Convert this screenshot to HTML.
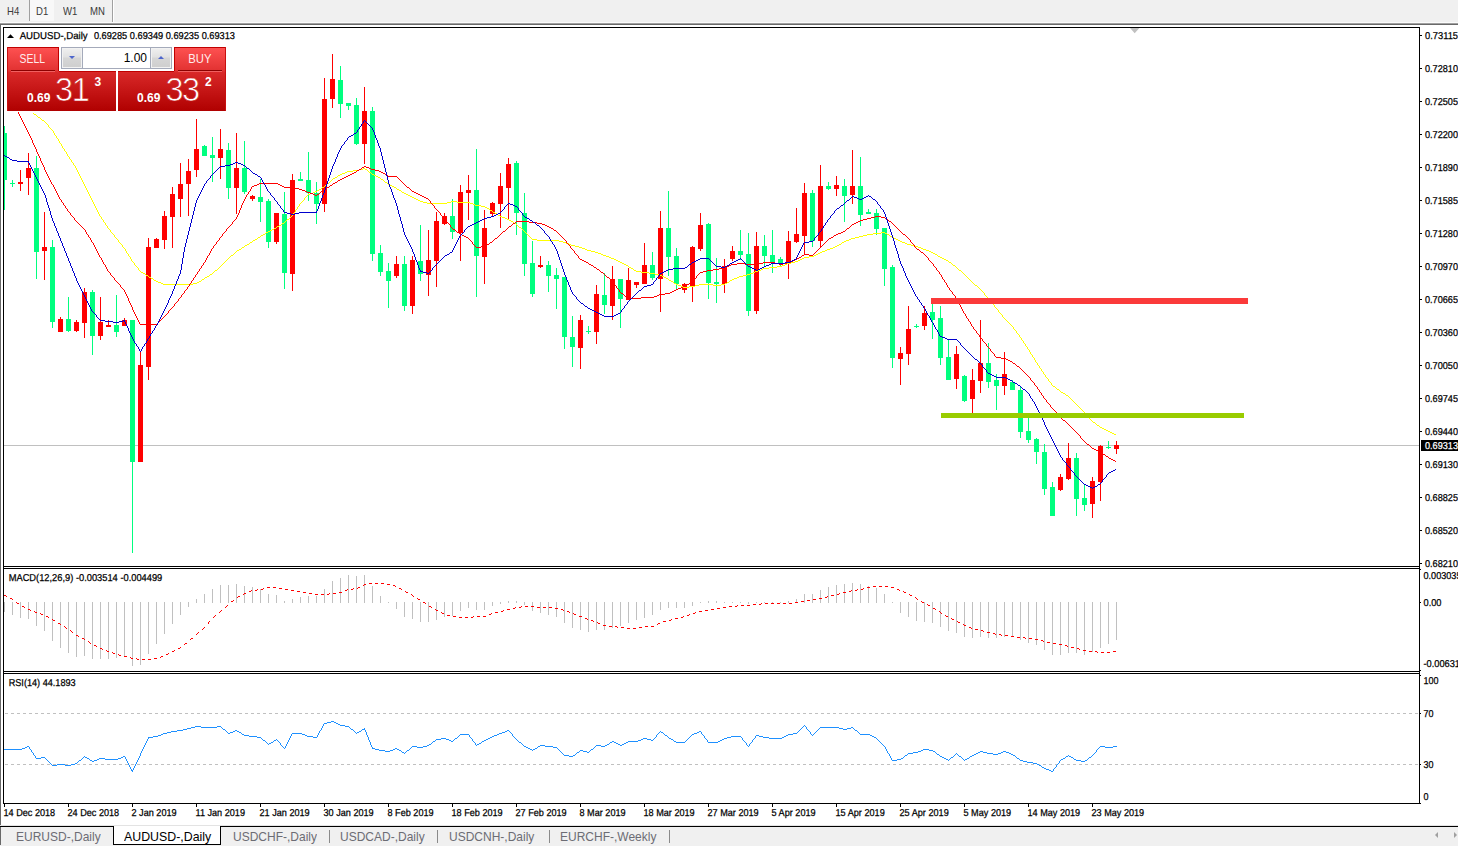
<!DOCTYPE html>
<html><head><meta charset="utf-8"><title>AUDUSD-,Daily</title>
<style>
html,body{margin:0;padding:0;background:#f0f0f0;}
body{width:1458px;height:846px;position:relative;overflow:hidden;font-family:"Liberation Sans",sans-serif;}
.abs{position:absolute;}
.tf{position:absolute;top:5.8px;font-size:10.3px;color:#3a3a3a;line-height:12px;white-space:nowrap;transform:scaleX(.93);transform-origin:0 0;}
.tab{position:absolute;top:828.5px;font-size:12px;line-height:16px;color:#6c6c74;white-space:nowrap;transform:scaleY(1.1);transform-origin:0 100%;}
.sep{position:absolute;top:830px;width:1px;height:13px;background:#8a8a8a;}
.red{background:linear-gradient(#ff5454,#e03030);}
</style></head><body>
<svg width="1458" height="846" viewBox="0 0 1458 846" style="position:absolute;left:0;top:0" font-family="Liberation Sans, sans-serif" text-rendering="geometricPrecision">
<g shape-rendering="crispEdges">
<rect x="0" y="23" width="1458" height="803" fill="#fff"/>
<rect x="0" y="22" width="1458" height="1" fill="#fbfbfb"/>
<rect x="0" y="23" width="1458" height="1" fill="#a0a0a0"/>
<rect x="0" y="24" width="1458" height="1" fill="#696969"/>
<rect x="0" y="25" width="1" height="821" fill="#696969"/>
<rect x="3" y="27" width="1417" height="1" fill="#000"/>
<rect x="3" y="566" width="1417" height="1" fill="#000"/>
<rect x="3" y="568" width="1417" height="1" fill="#000"/>
<rect x="3" y="671" width="1417" height="1" fill="#000"/>
<rect x="3" y="673" width="1417" height="1" fill="#000"/>
<rect x="3" y="803" width="1418" height="1" fill="#000"/>
<rect x="3" y="27" width="1" height="777" fill="#000"/>
<rect x="1419" y="27" width="1" height="777" fill="#000"/>
<rect x="0" y="825" width="1458" height="1" fill="#e3e3e3"/>
<rect x="0" y="826" width="1458" height="1" fill="#000"/>
</g>
<g shape-rendering="crispEdges">
<rect x="4" y="445" width="1415" height="1" fill="#c0c0c0"/>
</g>
<path d="M5 713.5H1419M5 764.5H1419" stroke="#c0c0c0" stroke-width="1" stroke-dasharray="3 3" shape-rendering="crispEdges" fill="none"/>
<defs><clipPath id="cm"><rect x="4" y="28" width="1415" height="538"/></clipPath><clipPath id="cx"><rect x="1420" y="24" width="38" height="800"/></clipPath></defs>
<g shape-rendering="crispEdges" clip-path="url(#cm)">
<rect x="4" y="126" width="1" height="84" fill="#00ff7f"/>
<rect x="2" y="133" width="5" height="47" fill="#00ff7f"/>
<rect x="12" y="180" width="1" height="7" fill="#00ff7f"/>
<rect x="10" y="183" width="5" height="1" fill="#00ff7f"/>
<rect x="20" y="170" width="1" height="21" fill="#ff0000"/>
<rect x="18" y="182" width="5" height="2" fill="#ff0000"/>
<rect x="28" y="153" width="1" height="42" fill="#ff0000"/>
<rect x="26" y="168" width="5" height="10" fill="#ff0000"/>
<rect x="36" y="156" width="1" height="123" fill="#00ff7f"/>
<rect x="34" y="168" width="5" height="84" fill="#00ff7f"/>
<rect x="44" y="212" width="1" height="68" fill="#ff0000"/>
<rect x="42" y="247" width="5" height="4" fill="#ff0000"/>
<rect x="52" y="240" width="1" height="88" fill="#00ff7f"/>
<rect x="50" y="247" width="5" height="75" fill="#00ff7f"/>
<rect x="60" y="317" width="1" height="15" fill="#ff0000"/>
<rect x="58" y="319" width="5" height="13" fill="#ff0000"/>
<rect x="68" y="297" width="1" height="35" fill="#00ff7f"/>
<rect x="66" y="319" width="5" height="12" fill="#00ff7f"/>
<rect x="76" y="320" width="1" height="12" fill="#ff0000"/>
<rect x="74" y="322" width="5" height="9" fill="#ff0000"/>
<rect x="84" y="288" width="1" height="50" fill="#ff0000"/>
<rect x="82" y="292" width="5" height="31" fill="#ff0000"/>
<rect x="92" y="290" width="1" height="65" fill="#00ff7f"/>
<rect x="90" y="292" width="5" height="44" fill="#00ff7f"/>
<rect x="100" y="297" width="1" height="43" fill="#ff0000"/>
<rect x="98" y="322" width="5" height="14" fill="#ff0000"/>
<rect x="108" y="320" width="1" height="7" fill="#ff0000"/>
<rect x="106" y="325" width="5" height="2" fill="#ff0000"/>
<rect x="116" y="295" width="1" height="42" fill="#00ff7f"/>
<rect x="114" y="325" width="5" height="7" fill="#00ff7f"/>
<rect x="124" y="318" width="1" height="8" fill="#ff0000"/>
<rect x="122" y="320" width="5" height="6" fill="#ff0000"/>
<rect x="132" y="320" width="1" height="233" fill="#00ff7f"/>
<rect x="130" y="320" width="5" height="142" fill="#00ff7f"/>
<rect x="140" y="351" width="1" height="111" fill="#ff0000"/>
<rect x="138" y="365" width="5" height="97" fill="#ff0000"/>
<rect x="148" y="238" width="1" height="142" fill="#ff0000"/>
<rect x="146" y="247" width="5" height="120" fill="#ff0000"/>
<rect x="156" y="238" width="1" height="10" fill="#ff0000"/>
<rect x="154" y="239" width="5" height="9" fill="#ff0000"/>
<rect x="164" y="211" width="1" height="38" fill="#ff0000"/>
<rect x="162" y="216" width="5" height="24" fill="#ff0000"/>
<rect x="172" y="187" width="1" height="61" fill="#ff0000"/>
<rect x="170" y="194" width="5" height="23" fill="#ff0000"/>
<rect x="180" y="163" width="1" height="54" fill="#ff0000"/>
<rect x="178" y="184" width="5" height="15" fill="#ff0000"/>
<rect x="188" y="159" width="1" height="57" fill="#ff0000"/>
<rect x="186" y="171" width="5" height="13" fill="#ff0000"/>
<rect x="196" y="119" width="1" height="58" fill="#ff0000"/>
<rect x="194" y="149" width="5" height="21" fill="#ff0000"/>
<rect x="204" y="145" width="1" height="11" fill="#00ff7f"/>
<rect x="202" y="146" width="5" height="10" fill="#00ff7f"/>
<rect x="212" y="137" width="1" height="45" fill="#00ff7f"/>
<rect x="210" y="155" width="5" height="3" fill="#00ff7f"/>
<rect x="220" y="129" width="1" height="50" fill="#ff0000"/>
<rect x="218" y="149" width="5" height="9" fill="#ff0000"/>
<rect x="228" y="143" width="1" height="56" fill="#00ff7f"/>
<rect x="226" y="150" width="5" height="38" fill="#00ff7f"/>
<rect x="236" y="133" width="1" height="81" fill="#ff0000"/>
<rect x="234" y="168" width="5" height="20" fill="#ff0000"/>
<rect x="244" y="141" width="1" height="53" fill="#00ff7f"/>
<rect x="242" y="168" width="5" height="24" fill="#00ff7f"/>
<rect x="252" y="195" width="1" height="6" fill="#ff0000"/>
<rect x="250" y="196" width="5" height="3" fill="#ff0000"/>
<rect x="260" y="179" width="1" height="43" fill="#00ff7f"/>
<rect x="258" y="197" width="5" height="5" fill="#00ff7f"/>
<rect x="268" y="199" width="1" height="49" fill="#00ff7f"/>
<rect x="266" y="201" width="5" height="41" fill="#00ff7f"/>
<rect x="276" y="213" width="1" height="31" fill="#ff0000"/>
<rect x="274" y="213" width="5" height="29" fill="#ff0000"/>
<rect x="284" y="192" width="1" height="97" fill="#00ff7f"/>
<rect x="282" y="214" width="5" height="59" fill="#00ff7f"/>
<rect x="292" y="174" width="1" height="117" fill="#ff0000"/>
<rect x="290" y="180" width="5" height="94" fill="#ff0000"/>
<rect x="300" y="172" width="1" height="9" fill="#00ff7f"/>
<rect x="298" y="179" width="5" height="2" fill="#00ff7f"/>
<rect x="308" y="152" width="1" height="49" fill="#00ff7f"/>
<rect x="306" y="180" width="5" height="13" fill="#00ff7f"/>
<rect x="316" y="182" width="1" height="42" fill="#00ff7f"/>
<rect x="314" y="193" width="5" height="11" fill="#00ff7f"/>
<rect x="324" y="78" width="1" height="134" fill="#ff0000"/>
<rect x="322" y="99" width="5" height="105" fill="#ff0000"/>
<rect x="332" y="54" width="1" height="54" fill="#ff0000"/>
<rect x="330" y="79" width="5" height="20" fill="#ff0000"/>
<rect x="340" y="66" width="1" height="52" fill="#00ff7f"/>
<rect x="338" y="80" width="5" height="24" fill="#00ff7f"/>
<rect x="348" y="103" width="1" height="7" fill="#00ff7f"/>
<rect x="346" y="103" width="5" height="3" fill="#00ff7f"/>
<rect x="356" y="98" width="1" height="47" fill="#00ff7f"/>
<rect x="354" y="105" width="5" height="39" fill="#00ff7f"/>
<rect x="364" y="87" width="1" height="77" fill="#ff0000"/>
<rect x="362" y="111" width="5" height="33" fill="#ff0000"/>
<rect x="372" y="107" width="1" height="154" fill="#00ff7f"/>
<rect x="370" y="111" width="5" height="143" fill="#00ff7f"/>
<rect x="380" y="245" width="1" height="31" fill="#00ff7f"/>
<rect x="378" y="253" width="5" height="19" fill="#00ff7f"/>
<rect x="388" y="263" width="1" height="45" fill="#00ff7f"/>
<rect x="386" y="271" width="5" height="10" fill="#00ff7f"/>
<rect x="396" y="256" width="1" height="22" fill="#ff0000"/>
<rect x="394" y="264" width="5" height="12" fill="#ff0000"/>
<rect x="404" y="256" width="1" height="55" fill="#00ff7f"/>
<rect x="402" y="264" width="5" height="42" fill="#00ff7f"/>
<rect x="412" y="256" width="1" height="58" fill="#ff0000"/>
<rect x="410" y="260" width="5" height="46" fill="#ff0000"/>
<rect x="420" y="225" width="1" height="56" fill="#00ff7f"/>
<rect x="418" y="261" width="5" height="13" fill="#00ff7f"/>
<rect x="428" y="230" width="1" height="66" fill="#ff0000"/>
<rect x="426" y="260" width="5" height="15" fill="#ff0000"/>
<rect x="436" y="212" width="1" height="75" fill="#ff0000"/>
<rect x="434" y="221" width="5" height="40" fill="#ff0000"/>
<rect x="444" y="213" width="1" height="12" fill="#ff0000"/>
<rect x="442" y="216" width="5" height="8" fill="#ff0000"/>
<rect x="452" y="199" width="1" height="40" fill="#00ff7f"/>
<rect x="450" y="216" width="5" height="16" fill="#00ff7f"/>
<rect x="460" y="185" width="1" height="76" fill="#ff0000"/>
<rect x="458" y="192" width="5" height="41" fill="#ff0000"/>
<rect x="468" y="175" width="1" height="45" fill="#ff0000"/>
<rect x="466" y="190" width="5" height="3" fill="#ff0000"/>
<rect x="476" y="149" width="1" height="148" fill="#00ff7f"/>
<rect x="474" y="190" width="5" height="66" fill="#00ff7f"/>
<rect x="484" y="210" width="1" height="74" fill="#ff0000"/>
<rect x="482" y="228" width="5" height="29" fill="#ff0000"/>
<rect x="492" y="202" width="1" height="15" fill="#ff0000"/>
<rect x="490" y="203" width="5" height="11" fill="#ff0000"/>
<rect x="500" y="173" width="1" height="55" fill="#ff0000"/>
<rect x="498" y="186" width="5" height="18" fill="#ff0000"/>
<rect x="508" y="158" width="1" height="62" fill="#ff0000"/>
<rect x="506" y="164" width="5" height="24" fill="#ff0000"/>
<rect x="516" y="161" width="1" height="74" fill="#00ff7f"/>
<rect x="514" y="163" width="5" height="50" fill="#00ff7f"/>
<rect x="524" y="193" width="1" height="83" fill="#00ff7f"/>
<rect x="522" y="213" width="5" height="51" fill="#00ff7f"/>
<rect x="532" y="241" width="1" height="56" fill="#00ff7f"/>
<rect x="530" y="263" width="5" height="31" fill="#00ff7f"/>
<rect x="540" y="256" width="1" height="12" fill="#ff0000"/>
<rect x="538" y="265" width="5" height="2" fill="#ff0000"/>
<rect x="548" y="261" width="1" height="31" fill="#00ff7f"/>
<rect x="546" y="265" width="5" height="11" fill="#00ff7f"/>
<rect x="556" y="268" width="1" height="41" fill="#00ff7f"/>
<rect x="554" y="275" width="5" height="4" fill="#00ff7f"/>
<rect x="564" y="277" width="1" height="72" fill="#00ff7f"/>
<rect x="562" y="277" width="5" height="60" fill="#00ff7f"/>
<rect x="572" y="316" width="1" height="51" fill="#00ff7f"/>
<rect x="570" y="337" width="5" height="10" fill="#00ff7f"/>
<rect x="580" y="315" width="1" height="54" fill="#ff0000"/>
<rect x="578" y="320" width="5" height="28" fill="#ff0000"/>
<rect x="588" y="326" width="1" height="8" fill="#00ff7f"/>
<rect x="586" y="331" width="5" height="1" fill="#00ff7f"/>
<rect x="596" y="285" width="1" height="59" fill="#ff0000"/>
<rect x="594" y="294" width="5" height="38" fill="#ff0000"/>
<rect x="604" y="273" width="1" height="41" fill="#00ff7f"/>
<rect x="602" y="295" width="5" height="10" fill="#00ff7f"/>
<rect x="612" y="266" width="1" height="54" fill="#ff0000"/>
<rect x="610" y="279" width="5" height="27" fill="#ff0000"/>
<rect x="620" y="279" width="1" height="49" fill="#00ff7f"/>
<rect x="618" y="279" width="5" height="20" fill="#00ff7f"/>
<rect x="628" y="268" width="1" height="32" fill="#ff0000"/>
<rect x="626" y="280" width="5" height="20" fill="#ff0000"/>
<rect x="636" y="282" width="1" height="6" fill="#ff0000"/>
<rect x="634" y="282" width="5" height="3" fill="#ff0000"/>
<rect x="644" y="243" width="1" height="41" fill="#ff0000"/>
<rect x="642" y="265" width="5" height="19" fill="#ff0000"/>
<rect x="652" y="252" width="1" height="28" fill="#00ff7f"/>
<rect x="650" y="265" width="5" height="13" fill="#00ff7f"/>
<rect x="660" y="211" width="1" height="101" fill="#ff0000"/>
<rect x="658" y="228" width="5" height="51" fill="#ff0000"/>
<rect x="668" y="191" width="1" height="85" fill="#00ff7f"/>
<rect x="666" y="228" width="5" height="29" fill="#00ff7f"/>
<rect x="676" y="248" width="1" height="42" fill="#00ff7f"/>
<rect x="674" y="256" width="5" height="28" fill="#00ff7f"/>
<rect x="684" y="283" width="1" height="10" fill="#ff0000"/>
<rect x="682" y="284" width="5" height="6" fill="#ff0000"/>
<rect x="692" y="246" width="1" height="56" fill="#ff0000"/>
<rect x="690" y="247" width="5" height="39" fill="#ff0000"/>
<rect x="700" y="213" width="1" height="38" fill="#ff0000"/>
<rect x="698" y="225" width="5" height="24" fill="#ff0000"/>
<rect x="708" y="223" width="1" height="76" fill="#00ff7f"/>
<rect x="706" y="224" width="5" height="59" fill="#00ff7f"/>
<rect x="716" y="258" width="1" height="45" fill="#00ff7f"/>
<rect x="714" y="282" width="5" height="2" fill="#00ff7f"/>
<rect x="724" y="259" width="1" height="34" fill="#ff0000"/>
<rect x="722" y="266" width="5" height="18" fill="#ff0000"/>
<rect x="732" y="246" width="1" height="15" fill="#ff0000"/>
<rect x="730" y="251" width="5" height="8" fill="#ff0000"/>
<rect x="740" y="230" width="1" height="30" fill="#00ff7f"/>
<rect x="738" y="251" width="5" height="4" fill="#00ff7f"/>
<rect x="748" y="233" width="1" height="83" fill="#00ff7f"/>
<rect x="746" y="254" width="5" height="57" fill="#00ff7f"/>
<rect x="756" y="232" width="1" height="82" fill="#ff0000"/>
<rect x="754" y="246" width="5" height="65" fill="#ff0000"/>
<rect x="764" y="235" width="1" height="31" fill="#00ff7f"/>
<rect x="762" y="246" width="5" height="10" fill="#00ff7f"/>
<rect x="772" y="230" width="1" height="43" fill="#00ff7f"/>
<rect x="770" y="255" width="5" height="7" fill="#00ff7f"/>
<rect x="780" y="257" width="1" height="9" fill="#00ff7f"/>
<rect x="778" y="259" width="5" height="5" fill="#00ff7f"/>
<rect x="788" y="231" width="1" height="48" fill="#ff0000"/>
<rect x="786" y="241" width="5" height="22" fill="#ff0000"/>
<rect x="796" y="208" width="1" height="35" fill="#ff0000"/>
<rect x="794" y="234" width="5" height="8" fill="#ff0000"/>
<rect x="804" y="183" width="1" height="72" fill="#ff0000"/>
<rect x="802" y="193" width="5" height="43" fill="#ff0000"/>
<rect x="812" y="190" width="1" height="57" fill="#00ff7f"/>
<rect x="810" y="193" width="5" height="48" fill="#00ff7f"/>
<rect x="820" y="165" width="1" height="83" fill="#ff0000"/>
<rect x="818" y="186" width="5" height="55" fill="#ff0000"/>
<rect x="828" y="182" width="1" height="8" fill="#00ff7f"/>
<rect x="826" y="186" width="5" height="3" fill="#00ff7f"/>
<rect x="836" y="176" width="1" height="20" fill="#ff0000"/>
<rect x="834" y="185" width="5" height="4" fill="#ff0000"/>
<rect x="844" y="179" width="1" height="43" fill="#00ff7f"/>
<rect x="842" y="186" width="5" height="10" fill="#00ff7f"/>
<rect x="852" y="150" width="1" height="54" fill="#ff0000"/>
<rect x="850" y="186" width="5" height="9" fill="#ff0000"/>
<rect x="860" y="157" width="1" height="69" fill="#00ff7f"/>
<rect x="858" y="186" width="5" height="29" fill="#00ff7f"/>
<rect x="868" y="209" width="1" height="5" fill="#00ff7f"/>
<rect x="866" y="212" width="5" height="2" fill="#00ff7f"/>
<rect x="876" y="209" width="1" height="26" fill="#00ff7f"/>
<rect x="874" y="213" width="5" height="16" fill="#00ff7f"/>
<rect x="884" y="228" width="1" height="58" fill="#00ff7f"/>
<rect x="882" y="228" width="5" height="41" fill="#00ff7f"/>
<rect x="892" y="265" width="1" height="103" fill="#00ff7f"/>
<rect x="890" y="267" width="5" height="91" fill="#00ff7f"/>
<rect x="900" y="347" width="1" height="38" fill="#ff0000"/>
<rect x="898" y="353" width="5" height="6" fill="#ff0000"/>
<rect x="908" y="306" width="1" height="59" fill="#ff0000"/>
<rect x="906" y="329" width="5" height="25" fill="#ff0000"/>
<rect x="916" y="324" width="1" height="4" fill="#00ff7f"/>
<rect x="914" y="326" width="5" height="1" fill="#00ff7f"/>
<rect x="924" y="306" width="1" height="24" fill="#ff0000"/>
<rect x="922" y="313" width="5" height="13" fill="#ff0000"/>
<rect x="932" y="304" width="1" height="35" fill="#00ff7f"/>
<rect x="930" y="312" width="5" height="8" fill="#00ff7f"/>
<rect x="940" y="306" width="1" height="59" fill="#00ff7f"/>
<rect x="938" y="318" width="5" height="40" fill="#00ff7f"/>
<rect x="948" y="340" width="1" height="40" fill="#00ff7f"/>
<rect x="946" y="357" width="5" height="23" fill="#00ff7f"/>
<rect x="956" y="346" width="1" height="43" fill="#ff0000"/>
<rect x="954" y="354" width="5" height="25" fill="#ff0000"/>
<rect x="964" y="375" width="1" height="27" fill="#00ff7f"/>
<rect x="962" y="376" width="5" height="25" fill="#00ff7f"/>
<rect x="972" y="369" width="1" height="44" fill="#ff0000"/>
<rect x="970" y="380" width="5" height="19" fill="#ff0000"/>
<rect x="980" y="320" width="1" height="73" fill="#ff0000"/>
<rect x="978" y="363" width="5" height="18" fill="#ff0000"/>
<rect x="988" y="343" width="1" height="45" fill="#00ff7f"/>
<rect x="986" y="363" width="5" height="19" fill="#00ff7f"/>
<rect x="996" y="374" width="1" height="36" fill="#00ff7f"/>
<rect x="994" y="380" width="5" height="6" fill="#00ff7f"/>
<rect x="1004" y="352" width="1" height="43" fill="#ff0000"/>
<rect x="1002" y="374" width="5" height="12" fill="#ff0000"/>
<rect x="1012" y="380" width="1" height="10" fill="#00ff7f"/>
<rect x="1010" y="382" width="5" height="8" fill="#00ff7f"/>
<rect x="1020" y="386" width="1" height="52" fill="#00ff7f"/>
<rect x="1018" y="390" width="5" height="42" fill="#00ff7f"/>
<rect x="1028" y="417" width="1" height="26" fill="#00ff7f"/>
<rect x="1026" y="431" width="5" height="9" fill="#00ff7f"/>
<rect x="1036" y="438" width="1" height="26" fill="#00ff7f"/>
<rect x="1034" y="439" width="5" height="13" fill="#00ff7f"/>
<rect x="1044" y="444" width="1" height="51" fill="#00ff7f"/>
<rect x="1042" y="452" width="5" height="37" fill="#00ff7f"/>
<rect x="1052" y="482" width="1" height="34" fill="#00ff7f"/>
<rect x="1050" y="487" width="5" height="29" fill="#00ff7f"/>
<rect x="1060" y="474" width="1" height="17" fill="#ff0000"/>
<rect x="1058" y="477" width="5" height="13" fill="#ff0000"/>
<rect x="1068" y="443" width="1" height="37" fill="#ff0000"/>
<rect x="1066" y="458" width="5" height="21" fill="#ff0000"/>
<rect x="1076" y="453" width="1" height="63" fill="#00ff7f"/>
<rect x="1074" y="458" width="5" height="41" fill="#00ff7f"/>
<rect x="1084" y="484" width="1" height="27" fill="#00ff7f"/>
<rect x="1082" y="498" width="5" height="7" fill="#00ff7f"/>
<rect x="1092" y="477" width="1" height="41" fill="#ff0000"/>
<rect x="1090" y="481" width="5" height="23" fill="#ff0000"/>
<rect x="1100" y="445" width="1" height="56" fill="#ff0000"/>
<rect x="1098" y="446" width="5" height="36" fill="#ff0000"/>
<rect x="1108" y="441" width="1" height="8" fill="#00ff7f"/>
<rect x="1106" y="447" width="5" height="1" fill="#00ff7f"/>
<rect x="1116" y="441" width="1" height="13" fill="#ff0000"/>
<rect x="1114" y="445" width="5" height="4" fill="#ff0000"/>
</g>
<path d="M338 175.5h2M374 175.5h2M146 275.5h2M659 275.5h3M743 275.5h4M582 248.5h3M830 248.5h3M921 248.5h2M683 287.5h6M1057 389.5h2M1097 425.5h2M1104 429.5h2M611 258.5h3M802 258.5h2M942 258.5h2M408 195.5h2M427 203.5h20M470 203.5h3M626 265.5h2M782 265.5h3M953 265.5h2M678 285.5h3M695 285.5h4M713 285.5h8M975 285.5h2M258 237.5h2M855 237.5h4M892 237.5h2M620 262.5h2M791 262.5h4M949 262.5h2M161 283.5h2M193 283.5h4M674 283.5h2M725 283.5h2M353 170.5h6M270 230.5h2M38 117.5h2M255 239.5h2M532 239.5h5M849 239.5h2M896 239.5h2M231 255.5h2M603 255.5h3M814 255.5h2M163 284.5h30M676 284.5h2M699 284.5h14M721 284.5h4M601 254.5h2M816 254.5h2M935 254.5h2M263 234.5h2M867 234.5h6M887 234.5h2M210 274.5h2M655 274.5h4M747 274.5h3M242 247.5h2M579 247.5h3M833 247.5h2M918 247.5h3M410 196.5h2M487 208.5h2M156 281.5h2M199 281.5h2M671 281.5h2M266 232.5h2M881 232.5h4M575 246.5h4M835 246.5h2M915 246.5h3M636 271.5h5M755 271.5h3M412 197.5h2M310 193.5h3M404 193.5h2M495 213.5h2M245 245.5h2M571 245.5h4M837 245.5h2M911 245.5h4M319 189.5h2M397 189.5h2M475 205.5h6M261 235.5h2M863 235.5h4M681 286.5h2M689 286.5h6M616 260.5h2M798 260.5h2M946 260.5h2M606 256.5h3M809 256.5h5M938 256.5h2M151 278.5h2M666 278.5h2M734 278.5h3M342 173.5h3M317 190.5h2M399 190.5h2M490 210.5h2M609 257.5h2M804 257.5h5M940 257.5h2M322 187.5h2M394 187.5h2M143 273.5h2M649 273.5h6M750 273.5h3M207 276.5h2M662 276.5h2M739 276.5h4M202 279.5h2M732 279.5h2M239 249.5h2M585 249.5h2M827 249.5h3M923 249.5h3M253 240.5h2M537 240.5h22M846 240.5h3M898 240.5h2M315 191.5h2M420 201.5h3M451 201.5h6M851 238.5h4M894 238.5h2M215 270.5h2M634 270.5h2M758 270.5h3M959 270.5h2M519 227.5h2M385 182.5h2M423 202.5h4M447 202.5h4M457 202.5h13M149 277.5h2M205 277.5h2M664 277.5h2M737 277.5h2M595 252.5h3M820 252.5h2M931 252.5h2M274 228.5h2M629 267.5h2M769 267.5h8M250 242.5h2M563 242.5h3M842 242.5h2M902 242.5h3M622 263.5h2M787 263.5h4M141 272.5h2M641 272.5h8M753 272.5h2M859 236.5h4M890 236.5h2M493 212.5h2M327 183.5h2M511 221.5h2M363 168.5h2M559 241.5h4M844 241.5h2M900 241.5h2M277 226.5h2M1093 422.5h2M247 244.5h2M569 244.5h2M839 244.5h2M907 244.5h4M268 231.5h2M505 218.5h2M614 259.5h2M800 259.5h2M944 259.5h2M34 114.5h2M777 266.5h5M154 280.5h2M669 280.5h2M730 280.5h2M591 251.5h4M822 251.5h3M929 251.5h2M631 268.5h2M763 268.5h6M335 177.5h2M378 177.5h2M237 250.5h2M587 250.5h4M825 250.5h2M926 250.5h3M392 186.5h2M347 171.5h6M481 206.5h4M498 215.5h2M598 253.5h3M818 253.5h2M933 253.5h2M388 184.5h2M873 233.5h8M885 233.5h2M313 192.5h2M402 192.5h2M381 179.5h2M1063 393.5h2M618 261.5h2M795 261.5h3M279 225.5h2M158 282.5h3M197 282.5h2M727 282.5h2M1066 395.5h2M624 264.5h2M785 264.5h2M1061 392.5h2M1110 432.5h2M761 269.5h2M390 185.5h2M566 243.5h3M905 243.5h2M308 194.5h2M406 194.5h2M1114 434.5h2M376 176.5h2M1106 430.5h2M418 200.5h2M287 219.5h2M507 219.5h2M502 217.5h3M345 172.5h2M369 172.5h2M485 207.5h2M333 178.5h2M1102 428.5h2M414 198.5h2M416 199.5h2M340 174.5h2M372 174.5h2M500 216.5h2M1053 386.5h2M359 169.5h4M365 169.5h2M272 229.5h2M473 204.5h2M282 223.5h2M514 223.5h2M509 220.5h2M1108 431.5h2M42 120.5h2M1112 433.5h2M1100 427.5h2M492.5 211v1M994.5 305v2M1023.5 341v2M1031.5 354v1M1071.5 399v1M1034.5 358v2M306.5 196v1M221.5 265v1M1027.5 347v2M1005.5 319v1M281.5 224v1M85.5 186v2M668.5 279v1M122.5 245v2M401.5 191v1M86.5 188v2M1012.5 326v1M139.5 270v1M82.5 180v2M1016.5 331v2M1037.5 363v2M140.5 271v1M235.5 252v1M367.5 170v1M521.5 228v1M53.5 131v2M998.5 310v2M56.5 136v2M1030.5 352v2M64.5 149v2M1038.5 365v1M979.5 288v1M228.5 258v1M114.5 235v2M294.5 212v1M1052.5 385v1M285.5 221v1M986.5 296v1M528.5 235v1M301.5 202v1M121.5 244v1M968.5 278v1M212.5 273v1M289.5 218v1M1078.5 406v1M204.5 278v1M957.5 268v1M125.5 249v2M99.5 214v2M1033.5 357v1M1041.5 369v2M1085.5 413v1M52.5 130v1M997.5 309v1M60.5 143v1M967.5 277v1M1086.5 414v1M1051.5 383v2M88.5 192v2M516.5 224v1M956.5 267v1M265.5 233v1M128.5 254v2M974.5 284v1M517.5 225v1M44.5 121v1M223.5 263v1M332.5 179v1M81.5 178v2M45.5 122v1M55.5 135v1M103.5 220v2M1029.5 350v2M59.5 141v2M67.5 154v2M96.5 208v2M297.5 207v2M113.5 234v1M153.5 279v1M1074.5 402v1M226.5 260v1M257.5 238v1M633.5 269v1M131.5 259v2M249.5 243v1M84.5 184v2M295.5 210v2M241.5 248v1M87.5 190v2M124.5 248v1M127.5 253v1M628.5 266v1M1014.5 329v1M138.5 268v2M98.5 212v2M80.5 176v2M1015.5 330v1M101.5 217v2M62.5 146v2M1036.5 362v1M673.5 282v1M1039.5 366v2M303.5 200v1M999.5 312v1M102.5 219v1M214.5 271v1M1032.5 355v2M66.5 152v2M1040.5 368v1M1088.5 416v2M1072.5 400v1M523.5 230v1M1099.5 426v1M952.5 264v1M95.5 206v2M1000.5 313v1M380.5 178v1M218.5 268v1M1073.5 401v1M497.5 214v1M1006.5 320v1M40.5 118v1M300.5 203v1M1007.5 321v1M83.5 182v2M1079.5 407v1M988.5 298v1M1080.5 408v1M1013.5 327v2M230.5 256v1M951.5 263v1M962.5 272v1M97.5 210v2M58.5 139v2M330.5 181v1M61.5 144v2M1035.5 360v2M69.5 157v2M1043.5 372v2M77.5 170v2M54.5 133v2M291.5 216v1M1087.5 415v1M980.5 289v1M94.5 204v2M115.5 237v1M981.5 290v1M284.5 222v1M145.5 274v1M116.5 238v1M970.5 280v1M126.5 251v2M130.5 257v2M530.5 237v1M961.5 271v1M134.5 263v2M1095.5 423v1M1017.5 333v1M368.5 171v1M522.5 229v1M57.5 138v1M105.5 223v2M36.5 115v1M65.5 151v1M1021.5 338v2M68.5 156v1M1042.5 371v1M76.5 168v2M276.5 227v1M1046.5 377v1M225.5 261v1M529.5 236v1M489.5 209v1M969.5 279v1M958.5 269v1M991.5 302v1M518.5 226v1M79.5 174v2M100.5 216v1M299.5 204v2M1045.5 375v2M1068.5 396v1M104.5 222v1M72.5 162v1M1020.5 337v1M387.5 183v1M93.5 202v2M1002.5 315v2M118.5 240v2M252.5 241v1M244.5 246v1M984.5 293v2M1075.5 403v1M129.5 256v1M1008.5 322v1M321.5 188v1M236.5 251v1M119.5 242v1M132.5 261v1M990.5 300v2M1009.5 323v1M133.5 262v1M325.5 185v1M293.5 213v2M302.5 201v1M46.5 123v1M220.5 266v1M78.5 172v2M329.5 182v1M209.5 275v1M286.5 220v1M107.5 226v2M201.5 280v1M63.5 148v1M71.5 160v2M513.5 222v1M75.5 166v2M1089.5 418v1M1001.5 314v1M1049.5 381v1M1090.5 419v1M525.5 232v1M983.5 292v1M89.5 194v2M989.5 299v1M1019.5 335v2M305.5 197v1M227.5 259v1M290.5 217v1M1059.5 390v1M889.5 235v1M963.5 273v1M1082.5 410v1M106.5 225v1M49.5 127v1M524.5 231v1M70.5 159v1M1044.5 374v1M1060.5 391v1M964.5 274v1M41.5 119v1M92.5 200v2M982.5 291v1M971.5 281v1M135.5 265v1M1081.5 409v1M48.5 125v2M234.5 253v1M136.5 266v1M1096.5 424v1M1018.5 334v1M73.5 163v2M110.5 230v2M37.5 116v1M74.5 165v1M1048.5 379v2M1070.5 398v1M117.5 239v1M1004.5 318v1M222.5 264v1M331.5 180v1M937.5 255v1M1055.5 387v1M948.5 261v1M531.5 238v1M324.5 186v1M47.5 124v1M992.5 303v1M296.5 209v1M993.5 304v1M1022.5 340v1M1025.5 344v2M1003.5 317v1M1026.5 346v1M91.5 198v2M1047.5 378v1M396.5 188v1M978.5 287v1M260.5 236v1M304.5 198v2M1091.5 420v1M307.5 195v1M1092.5 421v1M985.5 295v1M219.5 267v1M120.5 243v1M1077.5 405v1M33.5 113v1M1011.5 325v1M1069.5 397v1M108.5 228v1M1084.5 412v1M109.5 229v1M90.5 196v2M966.5 276v1M1076.5 404v1M527.5 234v1M229.5 257v1M292.5 215v1M1010.5 324v1M383.5 180v1M1065.5 394v1M213.5 272v1M1083.5 411v1M384.5 181v1M995.5 307v1M1024.5 343v1M977.5 286v1M217.5 269v1M51.5 129v1M996.5 308v1M1028.5 349v1M1050.5 382v1M526.5 233v1M233.5 254v1M955.5 266v1M123.5 247v1M337.5 176v1M973.5 283v1M137.5 267v1M50.5 128v1M224.5 262v1M965.5 275v1M111.5 232v1M326.5 184v1M729.5 281v1M112.5 233v1M371.5 173v1M972.5 282v1M298.5 206v1M1056.5 388v1M841.5 243v1M987.5 297v1M148.5 276v1" stroke="#ffff00" stroke-width="1" fill="none" shape-rendering="crispEdges"/>
<path d="M302 190.5h3M490 242.5h2M804 254.5h5M863 219.5h4M140 324.5h17M586 262.5h2M763 262.5h12M787 262.5h3M685 285.5h2M871 217.5h4M881 217.5h4M487 244.5h2M551 228.5h2M847 228.5h2M726 266.5h3M867 218.5h4M885 218.5h2M453 229.5h2M584 261.5h2M790 261.5h3M369 168.5h2M426 198.5h2M313 194.5h2M317 194.5h2M418 194.5h2M1103 454.5h2M315 195.5h2M420 195.5h2M305 191.5h2M321 191.5h2M412 191.5h2M476 247.5h5M481 246.5h4M597 269.5h2M713 269.5h6M1096 450.5h2M357 170.5h2M375 170.5h4M344 177.5h2M340 179.5h2M601 272.5h2M700 272.5h3M254 185.5h3M280 185.5h2M330 185.5h2M589 264.5h2M731 264.5h6M745 264.5h14M779 264.5h4M466 237.5h2M831 237.5h2M674 290.5h2M529 222.5h8M856 222.5h2M1010 361.5h2M554 230.5h2M509 226.5h2M547 226.5h2M594 267.5h2M723 267.5h3M460 234.5h2M836 234.5h2M903 234.5h2M284 187.5h11M327 187.5h2M407 187.5h2M737 263.5h8M759 263.5h4M775 263.5h4M783 263.5h4M580 259.5h2M795 259.5h2M299 189.5h3M259 183.5h19M333 183.5h2M707 270.5h6M516 221.5h13M858 221.5h2M889 221.5h2M422 196.5h2M641 297.5h13M513 223.5h2M537 223.5h5M854 223.5h2M690 282.5h2M621 293.5h2M665 293.5h5M503 231.5h2M843 231.5h2M350 174.5h2M1113 460.5h2M462 235.5h2M834 235.5h2M625 296.5h2M654 296.5h3M838 233.5h3M549 227.5h2M1013 363.5h2M457 232.5h2M841 232.5h2M352 173.5h2M383 173.5h2M802 255.5h2M809 255.5h4M703 271.5h4M687 284.5h2M1101 453.5h2M683 286.5h2M495 238.5h2M829 238.5h2M628 298.5h13M362 167.5h2M366 167.5h3M542 224.5h3M852 224.5h2M921 252.5h2M545 225.5h2M659 294.5h6M257 184.5h2M278 184.5h2M359 169.5h2M371 169.5h4M310 193.5h3M416 193.5h2M875 216.5h6M996 357.5h5M582 260.5h2M793 260.5h2M1017 366.5h2M1106 456.5h2M346 176.5h2M388 176.5h9M354 172.5h2M381 172.5h2M335 182.5h2M1006 359.5h2M591 265.5h2M729 265.5h2M1094 449.5h2M681 287.5h2M799 257.5h2M485 245.5h2M464 236.5h2M797 258.5h2M252 186.5h2M282 186.5h2M719 268.5h4M676 289.5h2M672 291.5h2M295 188.5h4M325 188.5h2M1111 459.5h2M348 175.5h2M386 175.5h2M678 288.5h3M607 277.5h2M1001 358.5h5M1098 451.5h2M1092 448.5h2M364 166.5h2M1087 444.5h2M1109 458.5h2M342 178.5h2M338 180.5h2M307 192.5h3M414 192.5h2M1008 360.5h2M379 171.5h2M1063 420.5h2M860 220.5h3M670 292.5h2M657 295.5h2M917 249.5h2M424 197.5h2M23.5 122v2M202.5 265v1M571.5 248v1M1026.5 374v1M498.5 236v1M946.5 283v2M1086.5 443v1M949.5 288v2M596.5 268v1M37.5 152v2M1059.5 416v1M982.5 339v2M74.5 218v2M1060.5 417v1M186.5 289v1M233.5 221v1M189.5 284v2M236.5 217v2M135.5 314v2M1041.5 393v2M897.5 228v1M1077.5 433v1M80.5 225v1M446.5 220v2M898.5 229v1M1037.5 387v2M824.5 243v1M930.5 261v1M44.5 167v3M113.5 277v1M695.5 278v1M241.5 205v3M181.5 295v2M1078.5 434v1M81.5 226v1M193.5 278v2M471.5 241v1M887.5 219v1M162.5 318v1M1051.5 407v1M931.5 262v1M26.5 128v2M472.5 242v2M963.5 311v2M941.5 275v2M124.5 290v2M971.5 324v2M1052.5 408v1M127.5 296v2M213.5 246v2M434.5 206v2M59.5 197v2M821.5 246v1M570.5 246v2M205.5 260v2M138.5 320v2M953.5 294v1M1015.5 364v1M134.5 312v2M73.5 217v1M34.5 145v2M502.5 232v1M209.5 253v2M923.5 253v1M1091.5 447v1M128.5 298v3M177.5 301v1M992.5 352v1M912.5 243v1M1100.5 452v1M445.5 219v1M569.5 245v1M184.5 291v2M25.5 126v2M698.5 274v1M966.5 316v2M216.5 242v2M172.5 307v1M196.5 274v1M948.5 287v1M22.5 120v2M1066.5 422v1M606.5 276v1M400.5 180v1M967.5 318v1M240.5 208v2M123.5 289v1M828.5 239v1M944.5 280v2M952.5 292v2M401.5 181v1M693.5 280v1M232.5 222v2M36.5 149v3M981.5 338v1M588.5 263v1M19.5 114v2M320.5 192v1M157.5 323v1M332.5 184v1M613.5 282v2M1036.5 386v1M33.5 143v2M324.5 189v1M1039.5 390v2M239.5 210v3M911.5 242v1M562.5 237v1M614.5 284v1M43.5 165v2M1040.5 392v1M102.5 260v2M115.5 280v1M1080.5 436v2M131.5 305v2M1021.5 369v1M116.5 281v1M224.5 232v1M933.5 264v2M1081.5 438v1M1065.5 421v1M962.5 309v2M970.5 322v2M474.5 245v1M1022.5 370v1M58.5 195v2M235.5 219v1M947.5 285v2M934.5 266v1M40.5 158v3M61.5 200v2M919.5 250v1M437.5 210v1M959.5 303v2M573.5 250v1M1028.5 376v1M51.5 182v2M892.5 223v1M819.5 248v1M1072.5 428v1M850.5 226v1M18.5 112v2M1029.5 377v1M164.5 316v1M893.5 224v1M816.5 251v1M1073.5 429v1M76.5 221v1M180.5 297v1M1043.5 396v2M192.5 280v1M1062.5 419v1M227.5 228v1M98.5 253v2M459.5 233v1M500.5 234v1M995.5 356v1M899.5 230v1M101.5 258v2M489.5 243v1M1079.5 435v1M175.5 303v1M448.5 223v1M900.5 231v1M493.5 240v1M219.5 238v2M199.5 269v2M973.5 327v2M951.5 291v1M57.5 193v2M65.5 206v2M21.5 118v2M497.5 237v1M983.5 341v1M250.5 189v2M1054.5 410v1M955.5 296v2M984.5 342v1M826.5 241v1M183.5 293v1M32.5 140v3M195.5 275v2M627.5 297v1M910.5 240v2M440.5 213v2M75.5 220v1M35.5 147v2M133.5 310v2M1061.5 418v1M616.5 286v2M246.5 195v2M1042.5 395v1M105.5 265v2M994.5 354v2M914.5 245v2M108.5 271v1M617.5 288v1M932.5 263v1M447.5 222v1M97.5 251v2M42.5 163v2M965.5 314v2M215.5 244v1M1046.5 400v2M814.5 253v1M428.5 199v1M130.5 303v2M968.5 319v2M82.5 227v1M888.5 220v1M60.5 199v1M24.5 124v2M572.5 249v1M623.5 294v1M429.5 200v1M961.5 307v2M969.5 321v1M242.5 203v2M125.5 292v2M958.5 301v2M56.5 191v2M1053.5 409v1M64.5 205v1M624.5 295v1M402.5 182v1M557.5 232v1M191.5 281v2M361.5 168v1M954.5 295v1M403.5 183v1M924.5 254v1M107.5 269v2M455.5 230v1M925.5 255v1M823.5 244v1M132.5 307v3M615.5 285v1M218.5 240v1M198.5 271v1M104.5 264v1M964.5 313v1M692.5 281v1M972.5 326v1M86.5 232v2M1012.5 362v1M20.5 116v2M936.5 268v2M159.5 321v1M118.5 283v1M1083.5 440v1M63.5 203v2M845.5 230v1M1024.5 372v1M508.5 227v1M238.5 213v2M1105.5 455v1M957.5 299v2M1068.5 424v1M556.5 231v1M575.5 253v1M1030.5 378v2M53.5 185v2M174.5 304v2M103.5 262v2M1031.5 380v1M106.5 267v2M506.5 229v1M49.5 178v2M993.5 353v1M913.5 244v1M99.5 255v2M249.5 191v1M499.5 235v1M563.5 238v1M41.5 161v2M619.5 290v2M31.5 138v2M1075.5 431v1M100.5 257v1M1045.5 399v1M129.5 301v2M593.5 266v1M928.5 258v2M564.5 239v1M450.5 225v2M1067.5 423v1M469.5 239v1M960.5 305v2M574.5 251v2M553.5 229v1M431.5 203v1M1082.5 439v1M85.5 230v2M920.5 251v1M475.5 246v1M55.5 189v2M166.5 314v1M1023.5 371v1M818.5 249v1M935.5 267v1M849.5 227v1M67.5 209v2M245.5 197v2M432.5 204v1M905.5 235v1M975.5 330v1M1056.5 412v2M438.5 211v1M226.5 229v2M182.5 294v1M229.5 226v1M906.5 236v1M1074.5 430v1M139.5 322v2M986.5 344v2M194.5 277v1M52.5 184v1M439.5 212v1M110.5 273v2M221.5 236v1M201.5 266v2M1044.5 398v1M1034.5 383v2M96.5 249v2M117.5 282v1M30.5 136v2M468.5 238v1M916.5 248v1M237.5 215v2M974.5 329v1M169.5 310v1M430.5 201v2M603.5 273v1M449.5 224v1M409.5 188v1M62.5 202v1M604.5 274v1M398.5 178v1M825.5 242v1M185.5 290v1M699.5 273v1M66.5 208v1M942.5 277v2M197.5 272v2M956.5 298v1M894.5 225v1M248.5 192v2M985.5 343v1M48.5 176v2M77.5 222v1M694.5 279v1M161.5 319v1M813.5 254v1M1089.5 445v1M337.5 181v1M566.5 241v2M901.5 232v1M618.5 289v1M244.5 199v2M329.5 186v1M95.5 247v2M567.5 243v1M88.5 235v2M397.5 177v1M937.5 270v1M120.5 285v2M1055.5 411v1M54.5 187v2M938.5 271v1M456.5 231v1M208.5 255v1M173.5 306v1M356.5 171v1M441.5 215v1M1070.5 426v1M558.5 233v1M494.5 239v1M404.5 184v1M577.5 255v1M47.5 174v2M559.5 234v1M599.5 270v1M915.5 247v1M212.5 248v1M168.5 311v2M1033.5 382v1M109.5 272v1M926.5 256v1M820.5 247v1M204.5 262v1M1047.5 402v1M927.5 257v1M83.5 228v1M91.5 240v2M565.5 240v1M94.5 245v2M1048.5 403v1M84.5 229v1M87.5 234v1M319.5 193v1M452.5 228v1M188.5 286v1M68.5 211v1M1084.5 441v1M50.5 180v2M385.5 174v1M1025.5 373v1M69.5 212v1M801.5 256v1M987.5 346v1M907.5 237v1M697.5 275v1M1058.5 415v1M988.5 347v1M908.5 238v1M1032.5 381v1M220.5 237v1M243.5 201v2M610.5 279v1M231.5 224v1M851.5 225v1M29.5 134v2M620.5 292v1M39.5 156v2M976.5 331v2M90.5 238v2M119.5 284v1M323.5 190v1M977.5 333v1M228.5 227v1M512.5 224v1M501.5 233v1M1069.5 425v1M815.5 252v1M576.5 254v1M176.5 302v1M179.5 298v1M433.5 205v1M505.5 230v1M211.5 249v2M609.5 278v1M137.5 318v2M200.5 268v1M223.5 233v1M203.5 263v2M895.5 226v1M171.5 308v1M160.5 320v1M251.5 187v2M896.5 227v1M111.5 275v1M1076.5 432v1M492.5 241v1M112.5 276v1M929.5 260v1M827.5 240v1M207.5 256v2M187.5 287v2M234.5 220v1M93.5 243v2M410.5 189v1M451.5 227v1M470.5 240v1M28.5 132v2M1050.5 405v2M411.5 190v1M89.5 237v1M126.5 294v2M696.5 276v2M1057.5 414v1M163.5 317v1M940.5 274v1M689.5 283v1M980.5 337v1M72.5 216v1M46.5 172v2M78.5 223v1M991.5 351v1M1035.5 385v1M79.5 224v1M444.5 218v1M561.5 236v1M939.5 272v2M902.5 233v1M1020.5 368v1M1049.5 404v1M605.5 275v1M399.5 179v1M210.5 251v2M979.5 335v2M568.5 244v1M38.5 154v2M122.5 288v1M222.5 234v2M473.5 244v1M943.5 279v1M578.5 256v2M70.5 213v2M435.5 208v1M247.5 194v1M833.5 236v1M136.5 316v2M822.5 245v1M579.5 258v1M71.5 215v1M436.5 209v1M214.5 245v1M406.5 186v1M206.5 258v2M442.5 216v1M846.5 229v1M45.5 170v2M990.5 349v2M1090.5 446v1M443.5 217v1M114.5 278v2M27.5 130v2M158.5 322v1M178.5 299v2M507.5 228v1M190.5 283v1M92.5 242v1M121.5 287v1M511.5 225v1M978.5 334v1M950.5 290v1M891.5 222v1M1071.5 427v1M1115.5 461v1M405.5 185v1M167.5 313v1M170.5 309v1M217.5 241v1M560.5 235v1M600.5 271v1M1027.5 375v1M611.5 280v1M1016.5 365v1M909.5 239v1M989.5 348v1M612.5 281v1M1108.5 457v1M230.5 225v1M1019.5 367v1M1038.5 389v1M165.5 315v1M817.5 250v1M225.5 231v1M515.5 222v1M945.5 282v1M1085.5 442v1" stroke="#ff0000" stroke-width="1" fill="none" shape-rendering="crispEdges"/>
<path d="M585 306.5h2M105 321.5h8M119 321.5h4M716 266.5h5M725 266.5h2M748 266.5h2M764 266.5h2M694 261.5h2M734 261.5h2M790 261.5h2M284 212.5h3M299 212.5h18M696 260.5h2M736 260.5h2M792 260.5h2M484 218.5h3M527 218.5h2M487 217.5h4M525 217.5h2M594 311.5h2M698 259.5h2M738 259.5h2M794 259.5h2M255 174.5h2M1006 378.5h2M857 198.5h2M862 198.5h2M1111 471.5h2M990 374.5h2M510 204.5h3M727 265.5h2M766 265.5h3M513 205.5h2M841 205.5h2M730 263.5h2M771 263.5h14M837 208.5h2M604 316.5h10M685 267.5h2M721 267.5h4M750 267.5h2M762 267.5h2M666 270.5h2M756 270.5h2M651 284.5h2M291 214.5h4M496 214.5h2M942 337.5h3M225 165.5h5M243 165.5h2M590 309.5h2M647 285.5h4M1090 487.5h2M1093 487.5h2M220 166.5h5M235 162.5h3M287 213.5h4M295 213.5h4M498 213.5h2M1113 470.5h2M450 252.5h2M233 163.5h2M238 163.5h3M420 271.5h3M664 271.5h2M947 339.5h10M689 264.5h2M769 264.5h2M859 199.5h3M873 199.5h2M258 176.5h2M247 168.5h2M1015 383.5h2M1008 379.5h2M588 308.5h2M639 290.5h2M996 377.5h10M975 359.5h2M423 272.5h4M662 272.5h2M673 268.5h12M752 268.5h2M760 268.5h2M472 224.5h2M12 160.5h5M700 258.5h9M692 262.5h2M732 262.5h2M785 262.5h5M17 161.5h12M600 314.5h2M616 314.5h2M515 206.5h2M476 222.5h2M533 222.5h2M809 241.5h4M253 173.5h2M1088 486.5h2M1095 486.5h2M602 315.5h2M614 315.5h2M940 336.5h2M854 197.5h3M864 197.5h2M508 203.5h2M644 286.5h3M482 219.5h2M668 269.5h5M754 269.5h2M758 269.5h2M100 320.5h5M123 320.5h2M474 223.5h2M592 310.5h2M1109 472.5h2M427 273.5h2M660 273.5h2M354 133.5h2M1010 380.5h2M113 322.5h6M470 225.5h2M537 225.5h2M10 159.5h2M491 216.5h3M1023 389.5h2M598 313.5h2M618 313.5h2M945 338.5h2M804 242.5h5M1086 485.5h2M480 220.5h2M530 220.5h2M1084 484.5h2M1098 484.5h2M230 164.5h3M241 164.5h2M847 200.5h2M494 215.5h2M447 254.5h2M468 226.5h2M349 136.5h2M596 312.5h2M581 303.5h2M445 255.5h2M988 373.5h2M478 221.5h2M852 196.5h2M866 196.5h2M869 196.5h2M351 135.5h2M994 376.5h2M7 157.5h2M992 375.5h2M5 156.5h2M1013 382.5h2M1018 385.5h2M183.5 252v6M76.5 278v3M386.5 172v4M1062.5 458v2M138.5 347v2M48.5 205v3M89.5 305v2M634.5 295v1M890.5 229v3M966.5 350v1M338.5 152v2M387.5 176v4M741.5 259v1M1055.5 445v2M562.5 266v3M162.5 313v2M54.5 223v3M90.5 307v2M552.5 242v2M1058.5 451v2M134.5 341v2M1066.5 463v2M191.5 219v4M62.5 243v3M967.5 351v1M174.5 286v3M900.5 261v3M275.5 200v1M154.5 328v2M51.5 215v3M418.5 265v3M383.5 160v4M131.5 335v2M178.5 276v3M1072.5 471v1M452.5 250v2M146.5 341v2M204.5 184v2M330.5 172v3M376.5 138v2M441.5 259v1M276.5 201v1M893.5 238v3M507.5 204v1M1115.5 469v1M894.5 241v4M1073.5 472v1M529.5 219v1M195.5 203v4M68.5 258v3M814.5 238v2M321.5 198v3M886.5 217v3M621.5 310v2M58.5 233v3M656.5 278v2M974.5 358v1M187.5 235v4M150.5 334v2M325.5 187v3M502.5 210v1M456.5 242v2M372.5 128v2M360.5 126v1M977.5 360v1M177.5 279v2M200.5 192v2M400.5 217v4M959.5 342v1M317.5 209v2M329.5 175v3M380.5 148v4M565.5 275v2M75.5 276v2M1061.5 457v1M518.5 208v2M798.5 253v2M166.5 305v2M215.5 171v1M64.5 248v3M36.5 177v2M382.5 156v4M558.5 254v3M393.5 195v3M93.5 312v1M320.5 201v2M1044.5 422v3M137.5 346v1M182.5 258v6M414.5 254v3M157.5 323v2M249.5 169v1M1025.5 390v1M169.5 298v2M268.5 191v1M548.5 236v1M86.5 299v2M324.5 190v3M130.5 333v2M561.5 263v3M915.5 294v2M210.5 176v2M357.5 130v2M1054.5 443v2M569.5 285v2M71.5 266v2M1026.5 391v1M33.5 171v2M199.5 194v2M899.5 258v3M389.5 184v3M274.5 198v2M987.5 372v1M1107.5 474v1M871.5 197v1M337.5 154v3M817.5 235v1M829.5 218v1M872.5 198v1M958.5 341v1M713.5 263v1M629.5 300v1M973.5 357v1M1102.5 480v2M385.5 168v4M194.5 207v4M714.5 264v1M57.5 231v2M345.5 141v1M1043.5 420v2M280.5 206v2M903.5 268v3M403.5 228v4M181.5 264v6M50.5 211v4M540.5 227v1M878.5 204v1M39.5 183v2M896.5 248v3M161.5 315v2M173.5 289v2M436.5 264v1M889.5 226v3M153.5 330v1M92.5 311v1M879.5 205v1M572.5 292v2M35.5 175v2M53.5 221v2M1040.5 414v2M133.5 339v2M547.5 235v1M267.5 189v2M555.5 247v2M190.5 223v4M328.5 178v3M46.5 198v4M264.5 184v1M402.5 224v4M576.5 297v2M420.5 270v1M431.5 270v1M587.5 307v1M820.5 231v1M85.5 297v2M375.5 135v3M332.5 166v3M914.5 292v2M747.5 265v1M832.5 214v1M278.5 204v1M70.5 263v3M1065.5 462v1M260.5 177v1M172.5 291v3M388.5 180v4M149.5 336v2M396.5 203v3M356.5 132v1M207.5 180v1M1075.5 475v1M348.5 137v1M1029.5 394v2M460.5 235v1M564.5 272v3M417.5 262v3M1076.5 476v1M189.5 227v4M1020.5 386v1M186.5 239v4M381.5 152v4M892.5 235v3M624.5 306v2M539.5 226v1M399.5 214v3M56.5 228v3M885.5 214v3M319.5 203v3M331.5 169v3M245.5 166v1M1021.5 387v1M74.5 273v3M517.5 207v1M1042.5 418v2M557.5 251v3M392.5 192v3M168.5 300v3M49.5 208v3M895.5 245v3M413.5 252v2M550.5 239v2M88.5 303v2M198.5 196v2M1064.5 461v1M1106.5 475v2M1083.5 483v1M336.5 157v2M571.5 290v2M63.5 246v2M263.5 182v2M185.5 243v4M655.5 280v1M1039.5 412v2M1057.5 449v2M917.5 297v2M32.5 169v2M554.5 245v2M575.5 296v1M980.5 363v1M1101.5 482v1M180.5 270v4M1053.5 441v2M636.5 293v1M568.5 282v3M277.5 202v2M184.5 247v5M797.5 255v2M1050.5 435v2M455.5 244v2M367.5 123v1M620.5 312v1M405.5 235v2M359.5 127v2M160.5 317v2M126.5 324v2M281.5 208v1M368.5 124v1M627.5 302v2M398.5 210v4M961.5 345v1M363.5 121v2M979.5 362v1M38.5 181v2M939.5 334v2M266.5 187v2M443.5 257v1M156.5 325v1M412.5 249v3M549.5 237v2M520.5 211v1M570.5 287v3M206.5 181v2M193.5 211v4M262.5 180v2M935.5 327v2M913.5 290v2M560.5 260v3M1056.5 447v2M96.5 315v2M643.5 287v1M916.5 296v1M888.5 223v3M31.5 167v2M898.5 254v4M377.5 140v3M968.5 352v1M129.5 331v2M504.5 207v2M52.5 218v3M335.5 159v3M623.5 308v1M743.5 261v1M709.5 259v1M850.5 198v1M535.5 223v1M1017.5 384v1M839.5 207v1M60.5 238v3M176.5 281v3M252.5 172v1M1028.5 393v1M45.5 195v3M152.5 331v2M81.5 289v2M1049.5 433v2M217.5 169v1M374.5 132v3M843.5 204v1M384.5 164v4M202.5 188v2M715.5 265v1M1012.5 381v1M519.5 210v1M67.5 256v2M395.5 200v3M905.5 273v3M877.5 202v2M563.5 269v3M803.5 243v2M175.5 284v2M4.5 155v1M556.5 249v2M34.5 173v2M881.5 208v1M188.5 231v4M742.5 260v1M265.5 185v2M938.5 332v2M37.5 179v2M553.5 244v1M1038.5 410v2M73.5 271v2M462.5 233v1M1067.5 465v1M902.5 266v2M391.5 189v3M796.5 257v2M94.5 313v1M401.5 221v3M816.5 236v1M318.5 206v3M931.5 320v2M454.5 246v2M250.5 170v1M84.5 295v2M1052.5 439v2M577.5 299v1M167.5 303v2M269.5 192v1M920.5 302v1M322.5 195v3M95.5 314v1M87.5 301v2M912.5 288v2M397.5 206v4M30.5 165v2M251.5 171v1M578.5 300v1M128.5 328v3M826.5 222v1M823.5 226v2M69.5 261v2M449.5 253v1M197.5 198v2M438.5 262v1M501.5 211v1M80.5 287v2M909.5 282v2M362.5 123v1M880.5 206v2M192.5 215v4M125.5 322v2M891.5 232v3M960.5 343v2M66.5 253v3M904.5 271v2M404.5 232v3M884.5 212v2M55.5 226v2M1041.5 416v2M834.5 211v2M465.5 229v1M171.5 294v2M631.5 298v1M209.5 178v1M261.5 178v2M654.5 281v1M934.5 325v2M1037.5 408v2M347.5 138v2M937.5 330v2M523.5 215v1M919.5 300v2M927.5 313v2M430.5 271v1M819.5 232v1M930.5 318v2M626.5 304v1M1030.5 396v2M83.5 293v2M982.5 365v2M1051.5 437v2M1070.5 468v2M1031.5 398v1M923.5 306v2M342.5 145v1M279.5 205v1M802.5 245v2M1034.5 402v2M127.5 326v2M559.5 257v3M567.5 280v2M369.5 125v1M1077.5 477v1M541.5 228v1M1045.5 425v2M44.5 193v2M415.5 257v3M142.5 347v2M1108.5 473v1M688.5 265v1M203.5 186v2M246.5 167v1M212.5 174v1M657.5 277v1M883.5 210v2M72.5 268v3M638.5 291v1M901.5 264v2M47.5 202v3M963.5 347v1M433.5 267v1M1100.5 483v1M196.5 200v3M551.5 241v1M822.5 228v1M1092.5 488v1M334.5 162v2M845.5 202v1M411.5 247v2M933.5 323v2M642.5 288v1M97.5 317v1M918.5 299v1M61.5 241v2M926.5 311v2M358.5 129v1M887.5 220v3M82.5 291v2M165.5 307v2M98.5 318v1M911.5 286v2M390.5 187v2M283.5 210v2M1048.5 431v2M408.5 241v2M908.5 280v2M711.5 261v1M566.5 277v3M124.5 321v1M1022.5 388v1M170.5 296v2M373.5 130v2M962.5 346v1M453.5 248v2M653.5 282v2M897.5 251v3M379.5 146v2M219.5 167v1M522.5 213v2M868.5 195v1M825.5 223v2M584.5 305v1M544.5 231v2M440.5 260v1M503.5 209v1M506.5 205v1M341.5 146v2M849.5 199v1M921.5 303v2M361.5 124v2M929.5 316v2M1103.5 479v1M536.5 224v1M744.5 262v1M410.5 245v2M981.5 364v1M29.5 163v2M922.5 305v1M970.5 354v1M1033.5 401v1M745.5 263v1M1082.5 482v1M729.5 264v1M710.5 260v1M633.5 296v1M282.5 209v1M79.5 285v2M907.5 278v2M407.5 239v2M1047.5 429v2M583.5 304v1M43.5 191v2M464.5 230v2M818.5 233v2M821.5 229v2M882.5 209v1M353.5 134v1M333.5 164v2M145.5 343v1M833.5 213v1M65.5 251v2M257.5 175v1M378.5 143v3M801.5 247v2M521.5 212v1M40.5 185v2M459.5 236v2M932.5 322v1M532.5 221v1M1036.5 406v2M813.5 240v1M936.5 329v1M271.5 195v1M828.5 219v1M925.5 309v2M1068.5 466v1M625.5 305v1M928.5 315v1M969.5 353v1M1032.5 399v2M437.5 263v1M910.5 284v2M141.5 349v2M316.5 211v1M28.5 162v1M9.5 158v1M1069.5 467v1M214.5 172v1M364.5 120v1M467.5 227v1M432.5 268v2M435.5 265v1M78.5 283v2M416.5 260v2M1046.5 427v2M836.5 209v1M687.5 266v1M340.5 148v2M211.5 175v1M1079.5 479v1M164.5 309v2M628.5 301v1M983.5 367v1M1035.5 404v2M270.5 193v2M344.5 142v2M924.5 308v1M579.5 301v1M444.5 256v1M984.5 368v1M409.5 243v2M406.5 237v2M327.5 181v3M659.5 274v2M144.5 344v2M800.5 249v2M542.5 229v1M42.5 189v2M875.5 200v1M218.5 168v1M824.5 225v1M371.5 127v1M148.5 338v1M543.5 230v1M840.5 206v1M740.5 258v1M524.5 216v1M831.5 215v1M1071.5 470v1M632.5 297v1M99.5 319v1M77.5 281v2M1105.5 477v1M906.5 276v2M458.5 238v2M323.5 193v2M370.5 126v1M1078.5 478v1M1027.5 392v1M712.5 262v1M179.5 274v2M957.5 340v1M442.5 258v1M851.5 197v1M1060.5 455v2M159.5 319v2M964.5 348v1M844.5 203v1M326.5 184v3M136.5 344v2M139.5 349v2M965.5 349v1M635.5 294v1M201.5 190v2M151.5 333v1M132.5 337v2M140.5 351v1M273.5 197v1M339.5 150v2M419.5 268v2M155.5 326v2M971.5 355v1M746.5 264v1M463.5 232v1M466.5 228v1M59.5 236v2M972.5 356v1M394.5 198v2M147.5 339v2M41.5 187v2M163.5 311v2M827.5 220v2M461.5 234v1M815.5 237v1M545.5 233v1M439.5 261v1M205.5 183v1M505.5 206v1M91.5 309v2M1059.5 453v2M343.5 144v1M546.5 234v1M216.5 170v1M135.5 343v1M622.5 309v1M1063.5 460v1M799.5 251v2M272.5 196v1M500.5 212v1M457.5 240v2M986.5 370v2M1074.5 473v2M213.5 173v1M658.5 276v1M1097.5 485v1M830.5 216v2M158.5 321v2M630.5 299v1M208.5 179v1M346.5 140v1M573.5 294v1M978.5 361v1M574.5 295v1M365.5 121v1M143.5 346v1M580.5 302v1M985.5 369v1M434.5 266v1M366.5 122v1M1104.5 478v1M846.5 201v1M835.5 210v1M691.5 263v1M637.5 292v1M429.5 272v1M1080.5 480v1M641.5 289v1M876.5 201v1M1081.5 481v1" stroke="#0000cd" stroke-width="1" fill="none" shape-rendering="crispEdges"/>
<g shape-rendering="crispEdges">
<rect x="931" y="298" width="317" height="6" fill="#fb3a3a"/>
<rect x="941" y="413" width="303" height="5" fill="#99cc00"/>
</g>
<g shape-rendering="crispEdges">
<rect x="4" y="602" width="1" height="10" fill="#c0c0c0"/>
<rect x="12" y="602" width="1" height="13" fill="#c0c0c0"/>
<rect x="20" y="602" width="1" height="16" fill="#c0c0c0"/>
<rect x="28" y="602" width="1" height="17" fill="#c0c0c0"/>
<rect x="36" y="602" width="1" height="24" fill="#c0c0c0"/>
<rect x="44" y="602" width="1" height="29" fill="#c0c0c0"/>
<rect x="52" y="602" width="1" height="39" fill="#c0c0c0"/>
<rect x="60" y="602" width="1" height="46" fill="#c0c0c0"/>
<rect x="68" y="602" width="1" height="51" fill="#c0c0c0"/>
<rect x="76" y="602" width="1" height="55" fill="#c0c0c0"/>
<rect x="84" y="602" width="1" height="54" fill="#c0c0c0"/>
<rect x="92" y="602" width="1" height="57" fill="#c0c0c0"/>
<rect x="100" y="602" width="1" height="57" fill="#c0c0c0"/>
<rect x="108" y="602" width="1" height="57" fill="#c0c0c0"/>
<rect x="116" y="602" width="1" height="56" fill="#c0c0c0"/>
<rect x="124" y="602" width="1" height="54" fill="#c0c0c0"/>
<rect x="132" y="602" width="1" height="64" fill="#c0c0c0"/>
<rect x="140" y="602" width="1" height="63" fill="#c0c0c0"/>
<rect x="148" y="602" width="1" height="52" fill="#c0c0c0"/>
<rect x="156" y="602" width="1" height="42" fill="#c0c0c0"/>
<rect x="164" y="602" width="1" height="32" fill="#c0c0c0"/>
<rect x="172" y="602" width="1" height="22" fill="#c0c0c0"/>
<rect x="180" y="602" width="1" height="13" fill="#c0c0c0"/>
<rect x="188" y="602" width="1" height="5" fill="#c0c0c0"/>
<rect x="196" y="599" width="1" height="4" fill="#c0c0c0"/>
<rect x="204" y="594" width="1" height="9" fill="#c0c0c0"/>
<rect x="212" y="589" width="1" height="14" fill="#c0c0c0"/>
<rect x="220" y="585" width="1" height="18" fill="#c0c0c0"/>
<rect x="228" y="585" width="1" height="18" fill="#c0c0c0"/>
<rect x="236" y="584" width="1" height="19" fill="#c0c0c0"/>
<rect x="244" y="586" width="1" height="17" fill="#c0c0c0"/>
<rect x="252" y="587" width="1" height="16" fill="#c0c0c0"/>
<rect x="260" y="589" width="1" height="14" fill="#c0c0c0"/>
<rect x="268" y="594" width="1" height="9" fill="#c0c0c0"/>
<rect x="276" y="595" width="1" height="8" fill="#c0c0c0"/>
<rect x="284" y="601" width="1" height="2" fill="#c0c0c0"/>
<rect x="292" y="599" width="1" height="4" fill="#c0c0c0"/>
<rect x="300" y="597" width="1" height="6" fill="#c0c0c0"/>
<rect x="308" y="596" width="1" height="7" fill="#c0c0c0"/>
<rect x="316" y="596" width="1" height="7" fill="#c0c0c0"/>
<rect x="324" y="589" width="1" height="14" fill="#c0c0c0"/>
<rect x="332" y="581" width="1" height="22" fill="#c0c0c0"/>
<rect x="340" y="578" width="1" height="25" fill="#c0c0c0"/>
<rect x="348" y="575" width="1" height="28" fill="#c0c0c0"/>
<rect x="356" y="576" width="1" height="27" fill="#c0c0c0"/>
<rect x="364" y="575" width="1" height="28" fill="#c0c0c0"/>
<rect x="372" y="586" width="1" height="17" fill="#c0c0c0"/>
<rect x="380" y="596" width="1" height="7" fill="#c0c0c0"/>
<rect x="388" y="602" width="1" height="1" fill="#c0c0c0"/>
<rect x="396" y="602" width="1" height="7" fill="#c0c0c0"/>
<rect x="404" y="602" width="1" height="15" fill="#c0c0c0"/>
<rect x="412" y="602" width="1" height="17" fill="#c0c0c0"/>
<rect x="420" y="602" width="1" height="20" fill="#c0c0c0"/>
<rect x="428" y="602" width="1" height="20" fill="#c0c0c0"/>
<rect x="436" y="602" width="1" height="18" fill="#c0c0c0"/>
<rect x="444" y="602" width="1" height="15" fill="#c0c0c0"/>
<rect x="452" y="602" width="1" height="14" fill="#c0c0c0"/>
<rect x="460" y="602" width="1" height="9" fill="#c0c0c0"/>
<rect x="468" y="602" width="1" height="6" fill="#c0c0c0"/>
<rect x="476" y="602" width="1" height="8" fill="#c0c0c0"/>
<rect x="484" y="602" width="1" height="8" fill="#c0c0c0"/>
<rect x="492" y="602" width="1" height="4" fill="#c0c0c0"/>
<rect x="500" y="602" width="1" height="2" fill="#c0c0c0"/>
<rect x="508" y="601" width="1" height="2" fill="#c0c0c0"/>
<rect x="516" y="601" width="1" height="2" fill="#c0c0c0"/>
<rect x="524" y="602" width="1" height="3" fill="#c0c0c0"/>
<rect x="532" y="602" width="1" height="9" fill="#c0c0c0"/>
<rect x="540" y="602" width="1" height="11" fill="#c0c0c0"/>
<rect x="548" y="602" width="1" height="13" fill="#c0c0c0"/>
<rect x="556" y="602" width="1" height="15" fill="#c0c0c0"/>
<rect x="564" y="602" width="1" height="21" fill="#c0c0c0"/>
<rect x="572" y="602" width="1" height="26" fill="#c0c0c0"/>
<rect x="580" y="602" width="1" height="28" fill="#c0c0c0"/>
<rect x="588" y="602" width="1" height="30" fill="#c0c0c0"/>
<rect x="596" y="602" width="1" height="28" fill="#c0c0c0"/>
<rect x="604" y="602" width="1" height="28" fill="#c0c0c0"/>
<rect x="612" y="602" width="1" height="26" fill="#c0c0c0"/>
<rect x="620" y="602" width="1" height="24" fill="#c0c0c0"/>
<rect x="628" y="602" width="1" height="21" fill="#c0c0c0"/>
<rect x="636" y="602" width="1" height="18" fill="#c0c0c0"/>
<rect x="644" y="602" width="1" height="16" fill="#c0c0c0"/>
<rect x="652" y="602" width="1" height="13" fill="#c0c0c0"/>
<rect x="660" y="602" width="1" height="8" fill="#c0c0c0"/>
<rect x="668" y="602" width="1" height="6" fill="#c0c0c0"/>
<rect x="676" y="602" width="1" height="6" fill="#c0c0c0"/>
<rect x="684" y="602" width="1" height="6" fill="#c0c0c0"/>
<rect x="692" y="602" width="1" height="4" fill="#c0c0c0"/>
<rect x="700" y="602" width="1" height="1" fill="#c0c0c0"/>
<rect x="708" y="601" width="1" height="2" fill="#c0c0c0"/>
<rect x="716" y="601" width="1" height="2" fill="#c0c0c0"/>
<rect x="724" y="602" width="1" height="1" fill="#c0c0c0"/>
<rect x="732" y="602" width="1" height="1" fill="#c0c0c0"/>
<rect x="740" y="602" width="1" height="1" fill="#c0c0c0"/>
<rect x="748" y="602" width="1" height="2" fill="#c0c0c0"/>
<rect x="756" y="602" width="1" height="1" fill="#c0c0c0"/>
<rect x="764" y="602" width="1" height="1" fill="#c0c0c0"/>
<rect x="772" y="602" width="1" height="1" fill="#c0c0c0"/>
<rect x="780" y="602" width="1" height="1" fill="#c0c0c0"/>
<rect x="788" y="601" width="1" height="2" fill="#c0c0c0"/>
<rect x="796" y="599" width="1" height="4" fill="#c0c0c0"/>
<rect x="804" y="594" width="1" height="9" fill="#c0c0c0"/>
<rect x="812" y="594" width="1" height="9" fill="#c0c0c0"/>
<rect x="820" y="590" width="1" height="13" fill="#c0c0c0"/>
<rect x="828" y="587" width="1" height="16" fill="#c0c0c0"/>
<rect x="836" y="585" width="1" height="18" fill="#c0c0c0"/>
<rect x="844" y="584" width="1" height="19" fill="#c0c0c0"/>
<rect x="852" y="583" width="1" height="20" fill="#c0c0c0"/>
<rect x="860" y="584" width="1" height="19" fill="#c0c0c0"/>
<rect x="868" y="586" width="1" height="17" fill="#c0c0c0"/>
<rect x="876" y="588" width="1" height="15" fill="#c0c0c0"/>
<rect x="884" y="594" width="1" height="9" fill="#c0c0c0"/>
<rect x="892" y="602" width="1" height="1" fill="#c0c0c0"/>
<rect x="900" y="602" width="1" height="11" fill="#c0c0c0"/>
<rect x="908" y="602" width="1" height="15" fill="#c0c0c0"/>
<rect x="916" y="602" width="1" height="19" fill="#c0c0c0"/>
<rect x="924" y="602" width="1" height="20" fill="#c0c0c0"/>
<rect x="932" y="602" width="1" height="21" fill="#c0c0c0"/>
<rect x="940" y="602" width="1" height="25" fill="#c0c0c0"/>
<rect x="948" y="602" width="1" height="29" fill="#c0c0c0"/>
<rect x="956" y="602" width="1" height="31" fill="#c0c0c0"/>
<rect x="964" y="602" width="1" height="35" fill="#c0c0c0"/>
<rect x="972" y="602" width="1" height="36" fill="#c0c0c0"/>
<rect x="980" y="602" width="1" height="35" fill="#c0c0c0"/>
<rect x="988" y="602" width="1" height="36" fill="#c0c0c0"/>
<rect x="996" y="602" width="1" height="36" fill="#c0c0c0"/>
<rect x="1004" y="602" width="1" height="35" fill="#c0c0c0"/>
<rect x="1012" y="602" width="1" height="35" fill="#c0c0c0"/>
<rect x="1020" y="602" width="1" height="38" fill="#c0c0c0"/>
<rect x="1028" y="602" width="1" height="41" fill="#c0c0c0"/>
<rect x="1036" y="602" width="1" height="43" fill="#c0c0c0"/>
<rect x="1044" y="602" width="1" height="48" fill="#c0c0c0"/>
<rect x="1052" y="602" width="1" height="53" fill="#c0c0c0"/>
<rect x="1060" y="602" width="1" height="53" fill="#c0c0c0"/>
<rect x="1068" y="602" width="1" height="51" fill="#c0c0c0"/>
<rect x="1076" y="602" width="1" height="51" fill="#c0c0c0"/>
<rect x="1084" y="602" width="1" height="53" fill="#c0c0c0"/>
<rect x="1092" y="602" width="1" height="50" fill="#c0c0c0"/>
<rect x="1100" y="602" width="1" height="46" fill="#c0c0c0"/>
<rect x="1108" y="602" width="1" height="42" fill="#c0c0c0"/>
<rect x="1116" y="602" width="1" height="38" fill="#c0c0c0"/>
</g>
<path d="M513 608.5h2M555 608.5h3M717 608.5h3M933 608.5h2M418 599.5h2M813 599.5h3M124 656.5h3M161 656.5h2M261 589.5h2M285 589.5h3M351 589.5h2M861 589.5h2M897 589.5h2M585 618.5h2M675 618.5h3M993 633.5h2M10 598.5h2M819 598.5h3M1035 639.5h3M76 635.5h2M1005 635.5h3M35 612.5h2M495 612.5h3M279 588.5h3M399 588.5h2M1101 652.5h3M1107 652.5h3M4 595.5h2M831 595.5h3M910 595.5h2M627 628.5h3M633 628.5h3M267 587.5h3M273 587.5h3M358 587.5h2M867 587.5h3M891 587.5h3M46 616.5h2M453 616.5h3M477 616.5h3M483 616.5h3M579 616.5h3M946 616.5h2M238 596.5h2M519 607.5h2M537 607.5h3M543 607.5h3M549 607.5h3M723 607.5h3M94 645.5h2M1065 645.5h2M609 626.5h3M615 626.5h2M645 626.5h3M651 626.5h3M255 590.5h2M291 590.5h3M345 590.5h2M855 590.5h2M244 593.5h2M309 593.5h3M333 593.5h3M999 634.5h2M1011 636.5h3M873 586.5h3M879 586.5h3M885 586.5h3M131 658.5h2M154 658.5h3M315 594.5h3M321 594.5h3M327 594.5h2M837 594.5h2M423 602.5h2M795 602.5h3M922 602.5h2M741 605.5h3M747 605.5h3M928 605.5h2M137 659.5h2M142 659.5h3M148 659.5h3M369 583.5h3M375 583.5h3M381 583.5h3M231 601.5h2M801 601.5h3M185 643.5h2M1053 643.5h3M436 610.5h2M705 610.5h3M28 609.5h2M507 609.5h3M561 609.5h2M711 609.5h3M53 620.5h2M591 620.5h2M669 620.5h2M100 648.5h2M178 648.5h2M1077 648.5h2M1083 650.5h3M753 604.5h3M759 604.5h2M303 592.5h3M339 592.5h3M406 592.5h2M843 592.5h3M904 592.5h2M621 627.5h3M639 627.5h3M969 627.5h2M975 629.5h3M107 651.5h2M172 651.5h2M1089 651.5h3M1095 651.5h2M1113 651.5h3M663 621.5h3M501 611.5h2M567 611.5h2M699 611.5h3M1041 640.5h2M22 606.5h2M429 606.5h2M525 606.5h3M531 606.5h3M729 606.5h3M735 606.5h2M459 617.5h3M465 617.5h3M471 617.5h2M681 617.5h2M249 591.5h2M297 591.5h3M849 591.5h2M987 632.5h3M17 603.5h2M765 603.5h3M771 603.5h3M777 603.5h3M783 603.5h3M789 603.5h3M82 638.5h2M191 638.5h2M1029 638.5h3M603 625.5h3M964 625.5h2M113 653.5h2M447 615.5h3M687 615.5h2M364 584.5h2M387 584.5h3M958 622.5h2M442 613.5h2M693 613.5h2M1059 644.5h3M825 597.5h2M952 619.5h2M119 655.5h2M41 614.5h2M489 614.5h2M574 614.5h2M166 654.5h2M1047 642.5h3M58 623.5h2M598 623.5h2M658 623.5h2M981 630.5h2M807 600.5h3M1071 647.5h3M1017 637.5h3M1023 637.5h2M393 585.5h2M951.5 618v1M34.5 611v1M405.5 591v1M90.5 643v1M363.5 585v1M563.5 610v1M1067.5 646v1M30.5 610v1M184.5 644v1M983.5 631v1M857.5 589v1M761.5 603v1M695.5 612v1M957.5 621v1M227.5 605v1M921.5 601v1M251.5 590v1M573.5 613v1M214.5 616v1M401.5 589v1M215.5 615v1M220.5 611v1M6.5 596v1M243.5 594v1M102.5 649v1M851.5 590v1M88.5 641v1M1043.5 641v1M917.5 599v1M945.5 615v1M1079.5 649v1M257.5 589v1M60.5 624v1M425.5 603v1M208.5 622v2M84.5 639v1M587.5 619v1M839.5 593v1M941.5 613v1M395.5 586v1M233.5 600v1M136.5 658v1M16.5 602v1M168.5 653v1M915.5 597v1M237.5 597v1M935.5 609v1M221.5 610v1M226.5 606v1M64.5 626v1M412.5 595v1M106.5 650v1M70.5 630v1M219.5 612v1M225.5 607v1M65.5 627v1M827.5 596v1M118.5 654v1M72.5 632v1M593.5 621v1M995.5 634v1M213.5 617v1M939.5 611v1M78.5 636v1M899.5 590v1M329.5 593v1M66.5 628v1M909.5 594v1M112.5 652v1M940.5 612v1M411.5 594v1M417.5 598v1M689.5 614v1M263.5 588v1M174.5 650v1M1097.5 652v1M48.5 617v1M597.5 622v1M40.5 613v1M491.5 613v1M197.5 633v1M198.5 632v1M203.5 628v1M515.5 607v1M160.5 657v1M963.5 624v1M413.5 596v1M441.5 612v1M71.5 631v1M357.5 588v1M863.5 588v1M473.5 616v1M1025.5 638v1M671.5 619v1M180.5 647v1M12.5 599v1M347.5 589v1M503.5 610v1M52.5 619v1M209.5 621v1M96.5 646v1M521.5 606v1M130.5 657v1M435.5 609v1M683.5 616v1M916.5 598v1M737.5 605v1M569.5 612v1M204.5 627v1M927.5 604v1M657.5 624v1M353.5 588v1M903.5 591v1M202.5 629v1M971.5 628v1M617.5 627v1M1001.5 635v1M24.5 607v1M431.5 607v1M89.5 642v1M190.5 639v1M196.5 634v1" stroke="#ff0000" stroke-width="1" fill="none" shape-rendering="crispEdges"/>
<path d="M171 731.5h6M233 731.5h2M237 731.5h2M359 731.5h2M505 731.5h2M699 731.5h2M41 757.5h4M85 757.5h2M121 757.5h2M942 757.5h2M951 757.5h2M1071 757.5h2M1089 757.5h2M79 760.5h2M90 760.5h2M94 760.5h3M892 760.5h5M1020 760.5h3M1076 760.5h5M1085 760.5h2M379 750.5h6M390 750.5h3M399 750.5h2M407 750.5h2M580 750.5h3M921 750.5h2M929 750.5h4M97 759.5h2M105 759.5h13M897 759.5h4M946 759.5h2M965 759.5h2M1061 759.5h2M1074 759.5h2M1027 762.5h6M4 749.5h18M375 749.5h4M393 749.5h2M397 749.5h2M530 749.5h2M533 749.5h2M591 749.5h2M923 749.5h6M153 736.5h5M249 736.5h8M307 736.5h6M492 736.5h2M731 736.5h10M759 736.5h4M784 736.5h2M872 736.5h2M269 743.5h2M479 743.5h2M616 743.5h2M624 743.5h2M75 763.5h2M1033 763.5h4M177 730.5h6M235 730.5h2M507 730.5h2M855 730.5h2M271 742.5h2M519 742.5h2M610 742.5h2M614 742.5h2M626 742.5h2M676 742.5h9M708 742.5h10M564 755.5h5M573 755.5h2M905 755.5h2M972 755.5h2M1013 755.5h2M385 751.5h5M583 751.5h4M918 751.5h3M933 751.5h2M980 751.5h3M1003 751.5h3M158 735.5h3M244 735.5h5M305 735.5h2M494 735.5h3M665 735.5h2M756 735.5h3M786 735.5h2M870 735.5h2M427 745.5h2M540 745.5h5M596 745.5h5M605 745.5h2M620 745.5h2M908 753.5h5M976 753.5h2M987 753.5h6M998 753.5h3M1009 753.5h2M263 740.5h2M274 740.5h2M449 740.5h2M484 740.5h2M638 740.5h3M651 740.5h2M720 740.5h2M163 733.5h4M228 733.5h2M292 733.5h10M499 733.5h3M694 733.5h3M793 733.5h4M52 765.5h5M65 765.5h6M1039 765.5h2M148 737.5h5M257 737.5h4M313 737.5h4M490 737.5h2M727 737.5h4M763 737.5h6M782 737.5h2M874 737.5h2M27 746.5h2M412 746.5h5M423 746.5h4M524 746.5h2M538 746.5h2M545 746.5h8M601 746.5h4M1100 746.5h5M1113 746.5h4M167 732.5h4M230 732.5h3M239 732.5h2M357 732.5h2M502 732.5h3M661 732.5h2M697 732.5h2M195 726.5h6M217 726.5h4M345 726.5h4M441 738.5h5M455 738.5h2M488 738.5h2M643 738.5h4M669 738.5h2M724 738.5h3M769 738.5h13M937 754.5h2M974 754.5h2M993 754.5h5M1011 754.5h2M433 741.5h2M451 741.5h2M482 741.5h2M612 741.5h2M628 741.5h10M674 741.5h2M718 741.5h2M36 758.5h5M87 758.5h2M99 758.5h6M118 758.5h3M901 758.5h2M944 758.5h2M967 758.5h2M1017 758.5h2M1063 758.5h2M25 747.5h2M417 747.5h6M526 747.5h2M553 747.5h4M1105 747.5h8M191 727.5h4M201 727.5h16M820 727.5h19M851 727.5h2M402 752.5h2M577 752.5h2M587 752.5h2M913 752.5h5M978 752.5h2M983 752.5h4M1001 752.5h2M1006 752.5h3M22 748.5h3M372 748.5h3M395 748.5h2M528 748.5h2M535 748.5h2M161 734.5h2M242 734.5h2M302 734.5h3M460 734.5h9M497 734.5h2M692 734.5h2M788 734.5h5M860 734.5h10M131 770.5h2M1049 770.5h2M183 729.5h4M223 729.5h2M351 729.5h2M362 729.5h3M843 729.5h4M57 764.5h8M71 764.5h4M1037 764.5h2M123 756.5h2M569 756.5h4M940 756.5h2M959 756.5h2M970 756.5h2M1066 756.5h2M1069 756.5h2M1044 768.5h2M187 728.5h4M839 728.5h4M847 728.5h4M340 725.5h5M436 739.5h5M446 739.5h3M486 739.5h2M641 739.5h2M647 739.5h4M671 739.5h2M722 739.5h2M429 744.5h2M477 744.5h2M607 744.5h2M618 744.5h2M622 744.5h2M327 722.5h4M334 722.5h2M1051 771.5h2M1046 769.5h3M92 761.5h2M1023 761.5h4M1081 761.5h4M324 723.5h3M336 723.5h2M338 724.5h2M331 721.5h3M1042 767.5h2M559.5 750v1M370.5 742v3M1092.5 755v1M560.5 751v1M532.5 750v1M146.5 741v2M878.5 740v1M1056.5 765v2M290.5 736v2M879.5 741v1M137.5 760v2M31.5 750v2M366.5 732v3M317.5 735v2M704.5 736v2M126.5 759v2M32.5 752v1M955.5 754v1M685.5 741v1M35.5 756v2M814.5 733v1M590.5 750v1M142.5 749v2M1098.5 748v1M281.5 745v1M958.5 755v1M321.5 728v2M282.5 746v1M807.5 729v1M350.5 728v1M369.5 740v2M802.5 727v1M904.5 756v1M453.5 740v1M285.5 746v2M799.5 730v1M129.5 765v2M457.5 737v1M513.5 736v1M707.5 740v2M1041.5 766v1M125.5 757v2M30.5 749v1M365.5 730v2M939.5 755v1M514.5 737v1M889.5 754v2M472.5 739v2M885.5 747v2M372.5 747v1M411.5 747v1M141.5 751v2M289.5 738v2M742.5 738v2M753.5 739v1M748.5 746v1M935.5 752v1M128.5 763v2M140.5 753v3M266.5 742v1M654.5 738v1M49.5 762v1M471.5 738v1M806.5 727v2M145.5 743v2M818.5 729v1M475.5 743v2M136.5 762v2M561.5 752v1M687.5 739v1M48.5 761v1M741.5 737v1M409.5 749v1M562.5 753v1M262.5 739v1M657.5 734v1M135.5 764v2M964.5 760v1M33.5 753v2M706.5 739v1M34.5 755v1M1094.5 753v1M78.5 761v1M1060.5 760v1M805.5 726v1M82.5 758v1M261.5 738v1M368.5 737v3M139.5 756v2M322.5 726v2M813.5 734v1M29.5 747v2M1097.5 749v1M691.5 735v1M858.5 732v1M881.5 743v1M473.5 741v1M406.5 751v1M318.5 733v2M516.5 739v1M288.5 740v2M474.5 742v1M801.5 728v1M903.5 757v1M361.5 730v1M459.5 735v1M907.5 754v1M284.5 748v1M880.5 742v1M744.5 741v1M515.5 738v1M854.5 729v1M948.5 760v1M594.5 747v1M268.5 744v1M1054.5 768v1M755.5 736v2M576.5 753v1M283.5 747v1M808.5 730v1M431.5 743v1M557.5 748v1M404.5 753v1M686.5 740v1M750.5 743v1M853.5 728v1M656.5 735v2M89.5 759v1M667.5 736v1M435.5 740v1M134.5 766v2M1096.5 750v2M743.5 740v1M367.5 735v2M537.5 747v1M267.5 743v1M51.5 764v1M891.5 758v2M276.5 739v1M689.5 737v1M659.5 732v1M815.5 732v1M1099.5 747v1M936.5 753v1M287.5 742v2M1073.5 758v1M563.5 754v1M77.5 762v1M803.5 726v1M50.5 763v1M701.5 732v2M1087.5 759v1M1068.5 755v1M81.5 759v1M1057.5 764v1M887.5 751v2M1091.5 756v1M663.5 733v1M138.5 758v2M883.5 745v1M476.5 745v1M521.5 743v1M811.5 734v1M950.5 758v1M522.5 744v1M84.5 756v1M954.5 755v1M746.5 743v2M1019.5 759v1M882.5 744v1M320.5 730v1M749.5 744v2M886.5 749v2M859.5 733v1M133.5 768v2M609.5 743v1M810.5 732v2M144.5 745v2M589.5 751v1M410.5 748v1M225.5 730v1M517.5 740v1M277.5 740v1M673.5 740v1M969.5 757v1M278.5 741v1M658.5 733v1M798.5 731v1M809.5 731v1M1015.5 756v1M558.5 749v1M1059.5 761v2M653.5 739v1M45.5 758v1M319.5 731v2M745.5 742v1M509.5 731v1M46.5 759v1M961.5 757v1M353.5 730v1M132.5 771v1M510.5 732v1M593.5 748v1M688.5 738v1M752.5 740v2M354.5 731v1M817.5 730v1M323.5 724v2M703.5 735v1M148.5 738v1M957.5 754v1M668.5 737v1M949.5 759v1M523.5 745v1M83.5 757v1M221.5 727v1M888.5 753v1M143.5 747v2M956.5 753v1M273.5 741v1M371.5 745v2M953.5 756v1M349.5 727v1M812.5 735v1M876.5 738v1M1093.5 754v1M877.5 739v1M131.5 769v1M512.5 734v2M702.5 734v1M127.5 761v2M147.5 739v2M454.5 739v1M800.5 729v1M401.5 751v1M265.5 741v1M664.5 734v1M884.5 746v1M227.5 732v1M291.5 734v2M364.5 728v1M280.5 743v2M595.5 746v1M690.5 736v1M481.5 742v1M1055.5 767v1M1058.5 763v1M1016.5 757v1M130.5 767v2M1053.5 769v2M747.5 745v1M432.5 742v1M47.5 760v1M405.5 752v1M511.5 733v1M751.5 742v1M660.5 731v1M890.5 756v2M458.5 736v1M469.5 735v2M575.5 754v1M963.5 759v1M470.5 737v1M705.5 738v1M356.5 733v1M286.5 744v2M797.5 732v1M518.5 741v1M279.5 742v1M1065.5 757v1M241.5 733v1M819.5 728v1M962.5 758v1M754.5 738v1M222.5 728v1M816.5 731v1M579.5 751v1M226.5 731v1M655.5 737v1M355.5 732v1M1095.5 752v1M857.5 731v1M804.5 725v1M1088.5 758v1" stroke="#1e90ff" stroke-width="1" fill="none" shape-rendering="crispEdges"/>
<g shape-rendering="crispEdges">
<rect x="1420" y="35" width="2" height="1" fill="#000"/>
<rect x="1420" y="68" width="2" height="1" fill="#000"/>
<rect x="1420" y="101" width="2" height="1" fill="#000"/>
<rect x="1420" y="134" width="2" height="1" fill="#000"/>
<rect x="1420" y="167" width="2" height="1" fill="#000"/>
<rect x="1420" y="200" width="2" height="1" fill="#000"/>
<rect x="1420" y="233" width="2" height="1" fill="#000"/>
<rect x="1420" y="266" width="2" height="1" fill="#000"/>
<rect x="1420" y="299" width="2" height="1" fill="#000"/>
<rect x="1420" y="332" width="2" height="1" fill="#000"/>
<rect x="1420" y="365" width="2" height="1" fill="#000"/>
<rect x="1420" y="398" width="2" height="1" fill="#000"/>
<rect x="1420" y="431" width="2" height="1" fill="#000"/>
<rect x="1420" y="464" width="2" height="1" fill="#000"/>
<rect x="1420" y="497" width="2" height="1" fill="#000"/>
<rect x="1420" y="530" width="2" height="1" fill="#000"/>
<rect x="1420" y="563" width="2" height="1" fill="#000"/>
<rect x="1420" y="569" width="1" height="1" fill="#000"/>
<rect x="1420" y="602" width="1" height="1" fill="#000"/>
<rect x="1420" y="670" width="1" height="1" fill="#000"/>
<rect x="1420" y="675" width="1" height="1" fill="#000"/>
<rect x="1420" y="803" width="1" height="1" fill="#000"/>
<rect x="1420" y="713" width="1" height="1" fill="#000"/>
<rect x="1420" y="764" width="1" height="1" fill="#000"/>
<rect x="4" y="804" width="1" height="3" fill="#000"/>
<rect x="68" y="804" width="1" height="3" fill="#000"/>
<rect x="132" y="804" width="1" height="3" fill="#000"/>
<rect x="196" y="804" width="1" height="3" fill="#000"/>
<rect x="260" y="804" width="1" height="3" fill="#000"/>
<rect x="324" y="804" width="1" height="3" fill="#000"/>
<rect x="388" y="804" width="1" height="3" fill="#000"/>
<rect x="452" y="804" width="1" height="3" fill="#000"/>
<rect x="516" y="804" width="1" height="3" fill="#000"/>
<rect x="580" y="804" width="1" height="3" fill="#000"/>
<rect x="644" y="804" width="1" height="3" fill="#000"/>
<rect x="708" y="804" width="1" height="3" fill="#000"/>
<rect x="772" y="804" width="1" height="3" fill="#000"/>
<rect x="836" y="804" width="1" height="3" fill="#000"/>
<rect x="900" y="804" width="1" height="3" fill="#000"/>
<rect x="964" y="804" width="1" height="3" fill="#000"/>
<rect x="1028" y="804" width="1" height="3" fill="#000"/>
<rect x="1092" y="804" width="1" height="3" fill="#000"/>
<rect x="1421" y="440" width="37" height="11" fill="#000"/>
</g>
<g clip-path="url(#cx)">
<text x="1425" y="39" font-size="10" fill="#000" stroke="#000" stroke-width="0.25" textLength="33" lengthAdjust="spacingAndGlyphs" >0.73115</text>
<text x="1425" y="72" font-size="10" fill="#000" stroke="#000" stroke-width="0.25" textLength="33" lengthAdjust="spacingAndGlyphs" >0.72810</text>
<text x="1425" y="105" font-size="10" fill="#000" stroke="#000" stroke-width="0.25" textLength="33" lengthAdjust="spacingAndGlyphs" >0.72505</text>
<text x="1425" y="138" font-size="10" fill="#000" stroke="#000" stroke-width="0.25" textLength="33" lengthAdjust="spacingAndGlyphs" >0.72200</text>
<text x="1425" y="171" font-size="10" fill="#000" stroke="#000" stroke-width="0.25" textLength="33" lengthAdjust="spacingAndGlyphs" >0.71890</text>
<text x="1425" y="204" font-size="10" fill="#000" stroke="#000" stroke-width="0.25" textLength="33" lengthAdjust="spacingAndGlyphs" >0.71585</text>
<text x="1425" y="237" font-size="10" fill="#000" stroke="#000" stroke-width="0.25" textLength="33" lengthAdjust="spacingAndGlyphs" >0.71280</text>
<text x="1425" y="270" font-size="10" fill="#000" stroke="#000" stroke-width="0.25" textLength="33" lengthAdjust="spacingAndGlyphs" >0.70970</text>
<text x="1425" y="303" font-size="10" fill="#000" stroke="#000" stroke-width="0.25" textLength="33" lengthAdjust="spacingAndGlyphs" >0.70665</text>
<text x="1425" y="336" font-size="10" fill="#000" stroke="#000" stroke-width="0.25" textLength="33" lengthAdjust="spacingAndGlyphs" >0.70360</text>
<text x="1425" y="369" font-size="10" fill="#000" stroke="#000" stroke-width="0.25" textLength="33" lengthAdjust="spacingAndGlyphs" >0.70050</text>
<text x="1425" y="402" font-size="10" fill="#000" stroke="#000" stroke-width="0.25" textLength="33" lengthAdjust="spacingAndGlyphs" >0.69745</text>
<text x="1425" y="435" font-size="10" fill="#000" stroke="#000" stroke-width="0.25" textLength="33" lengthAdjust="spacingAndGlyphs" >0.69440</text>
<text x="1425" y="468" font-size="10" fill="#000" stroke="#000" stroke-width="0.25" textLength="33" lengthAdjust="spacingAndGlyphs" >0.69130</text>
<text x="1425" y="501" font-size="10" fill="#000" stroke="#000" stroke-width="0.25" textLength="33" lengthAdjust="spacingAndGlyphs" >0.68825</text>
<text x="1425" y="534" font-size="10" fill="#000" stroke="#000" stroke-width="0.25" textLength="33" lengthAdjust="spacingAndGlyphs" >0.68520</text>
<text x="1425" y="567" font-size="10" fill="#000" stroke="#000" stroke-width="0.25" textLength="33" lengthAdjust="spacingAndGlyphs" >0.68210</text>
<text x="1425" y="449" font-size="10" fill="#fff" stroke="#fff" stroke-width="0.25" textLength="33" lengthAdjust="spacingAndGlyphs" >0.69313</text>
<text x="1423.5" y="578.8" font-size="10" fill="#000" stroke="#000" stroke-width="0.25" textLength="38" lengthAdjust="spacingAndGlyphs" >0.003035</text>
<text x="1423.5" y="605.8" font-size="10" fill="#000" stroke="#000" stroke-width="0.25" textLength="18" lengthAdjust="spacingAndGlyphs" >0.00</text>
<text x="1423.5" y="667.2" font-size="10" fill="#000" stroke="#000" stroke-width="0.25" textLength="36.5" lengthAdjust="spacingAndGlyphs" >-0.00631</text>
<text x="1423.5" y="683.6" font-size="10" fill="#000" stroke="#000" stroke-width="0.25" textLength="15" lengthAdjust="spacingAndGlyphs" >100</text>
<text x="1423.5" y="717.2" font-size="10" fill="#000" stroke="#000" stroke-width="0.25" textLength="10" lengthAdjust="spacingAndGlyphs" >70</text>
<text x="1423.5" y="767.9" font-size="10" fill="#000" stroke="#000" stroke-width="0.25" textLength="10" lengthAdjust="spacingAndGlyphs" >30</text>
<text x="1423.5" y="800" font-size="10" fill="#000" stroke="#000" stroke-width="0.25" textLength="5" lengthAdjust="spacingAndGlyphs" >0</text>
</g>
<text x="3.5" y="816" font-size="10" fill="#000" stroke="#000" stroke-width="0.25" textLength="51.7" lengthAdjust="spacingAndGlyphs" >14 Dec 2018</text>
<text x="67.5" y="816" font-size="10" fill="#000" stroke="#000" stroke-width="0.25" textLength="51.7" lengthAdjust="spacingAndGlyphs" >24 Dec 2018</text>
<text x="131.5" y="816" font-size="10" fill="#000" stroke="#000" stroke-width="0.25" textLength="45.1" lengthAdjust="spacingAndGlyphs" >2 Jan 2019</text>
<text x="195.5" y="816" font-size="10" fill="#000" stroke="#000" stroke-width="0.25" textLength="49.5" lengthAdjust="spacingAndGlyphs" >11 Jan 2019</text>
<text x="259.5" y="816" font-size="10" fill="#000" stroke="#000" stroke-width="0.25" textLength="50.2" lengthAdjust="spacingAndGlyphs" >21 Jan 2019</text>
<text x="323.5" y="816" font-size="10" fill="#000" stroke="#000" stroke-width="0.25" textLength="50.2" lengthAdjust="spacingAndGlyphs" >30 Jan 2019</text>
<text x="387.5" y="816" font-size="10" fill="#000" stroke="#000" stroke-width="0.25" textLength="46.1" lengthAdjust="spacingAndGlyphs" >8 Feb 2019</text>
<text x="451.5" y="816" font-size="10" fill="#000" stroke="#000" stroke-width="0.25" textLength="51.2" lengthAdjust="spacingAndGlyphs" >18 Feb 2019</text>
<text x="515.5" y="816" font-size="10" fill="#000" stroke="#000" stroke-width="0.25" textLength="51.2" lengthAdjust="spacingAndGlyphs" >27 Feb 2019</text>
<text x="579.5" y="816" font-size="10" fill="#000" stroke="#000" stroke-width="0.25" textLength="46.1" lengthAdjust="spacingAndGlyphs" >8 Mar 2019</text>
<text x="643.5" y="816" font-size="10" fill="#000" stroke="#000" stroke-width="0.25" textLength="51.2" lengthAdjust="spacingAndGlyphs" >18 Mar 2019</text>
<text x="707.5" y="816" font-size="10" fill="#000" stroke="#000" stroke-width="0.25" textLength="51.2" lengthAdjust="spacingAndGlyphs" >27 Mar 2019</text>
<text x="771.5" y="816" font-size="10" fill="#000" stroke="#000" stroke-width="0.25" textLength="44.1" lengthAdjust="spacingAndGlyphs" >5 Apr 2019</text>
<text x="835.5" y="816" font-size="10" fill="#000" stroke="#000" stroke-width="0.25" textLength="49.2" lengthAdjust="spacingAndGlyphs" >15 Apr 2019</text>
<text x="899.5" y="816" font-size="10" fill="#000" stroke="#000" stroke-width="0.25" textLength="49.2" lengthAdjust="spacingAndGlyphs" >25 Apr 2019</text>
<text x="963.5" y="816" font-size="10" fill="#000" stroke="#000" stroke-width="0.25" textLength="47.7" lengthAdjust="spacingAndGlyphs" >5 May 2019</text>
<text x="1027.5" y="816" font-size="10" fill="#000" stroke="#000" stroke-width="0.25" textLength="52.7" lengthAdjust="spacingAndGlyphs" >14 May 2019</text>
<text x="1091.5" y="816" font-size="10" fill="#000" stroke="#000" stroke-width="0.25" textLength="52.7" lengthAdjust="spacingAndGlyphs" >23 May 2019</text>
<text x="19.7" y="39.4" font-size="10" fill="#000" stroke="#000" stroke-width="0.25" textLength="68" lengthAdjust="spacingAndGlyphs" >AUDUSD-,Daily</text>
<text x="93.9" y="39.4" font-size="10" fill="#000" stroke="#000" stroke-width="0.25" textLength="141.1" lengthAdjust="spacingAndGlyphs" >0.69285 0.69349 0.69235 0.69313</text>
<text x="8.7" y="581.4" font-size="10" fill="#000" stroke="#000" stroke-width="0.25" textLength="153.6" lengthAdjust="spacingAndGlyphs" >MACD(12,26,9) -0.003514 -0.004499</text>
<text x="8.7" y="686.4" font-size="10" fill="#000" stroke="#000" stroke-width="0.25" textLength="67" lengthAdjust="spacingAndGlyphs" >RSI(14) 44.1893</text>
<path d="M7 38L10.5 34.2L14 38Z" fill="#000"/>
<path d="M1130 28h9.4l-4.7 5.2z" fill="#c0c0c0"/>
</svg>
<!-- toolbar -->
<div class="abs" style="left:29px;top:0;width:1px;height:21px;background:#a0a0a0"></div>
<div class="abs" style="left:30px;top:0;width:24px;height:21px;background:#f8f8f8"></div>
<div class="abs" style="left:112px;top:0;width:1px;height:22px;background:#a0a0a0"></div>
<div class="abs" style="left:113px;top:0;width:1px;height:22px;background:#fff"></div>
<div class="tf" style="left:6.5px">H4</div>
<div class="tf" style="left:35.5px">D1</div>
<div class="tf" style="left:63px">W1</div>
<div class="tf" style="left:89.5px">MN</div>
<!-- one-click trade panel -->
<div class="abs" style="left:6px;top:46px;width:221px;height:65px;background:#fff"></div>
<div class="abs" style="left:7px;top:47px;width:109px;height:64px;background:linear-gradient(#ff5252 0%,#e23232 37%,#d82828 40%,#b00000 100%);"></div>
<div class="abs" style="left:118px;top:47px;width:108px;height:64px;background:linear-gradient(#ff5252 0%,#e23232 37%,#d82828 40%,#b00000 100%);"></div>
<div class="abs" style="left:59px;top:47px;width:115px;height:24px;background:#fff"></div>
<div class="abs" style="left:116px;top:47px;width:2px;height:64px;background:#fff"></div>
<div class="abs" style="left:7px;top:47px;width:51px;height:1px;background:#c00000"></div>
<div class="abs" style="left:174px;top:47px;width:52px;height:1px;background:#c00000"></div>
<div class="abs" style="left:7px;top:47px;width:1px;height:64px;background:#c81010"></div>
<div class="abs" style="left:225px;top:47px;width:1px;height:64px;background:#c81010"></div>
<div class="abs" style="left:58px;top:47px;width:1px;height:24px;background:#c00000"></div>
<div class="abs" style="left:174px;top:47px;width:1px;height:24px;background:#c00000"></div>
<div class="abs" style="left:59px;top:71px;width:57px;height:1px;background:#c00000"></div>
<div class="abs" style="left:118px;top:71px;width:56px;height:1px;background:#c00000"></div>
<div class="abs" style="left:11px;top:70px;width:44px;height:1px;background:#8c0000"></div>
<div class="abs" style="left:11px;top:71px;width:44px;height:1px;background:#f06060"></div>
<div class="abs" style="left:178px;top:70px;width:44px;height:1px;background:#8c0000"></div>
<div class="abs" style="left:178px;top:71px;width:44px;height:1px;background:#f06060"></div>
<div class="abs" style="left:7px;top:52px;width:51px;text-align:center;font-size:12.5px;line-height:14px;color:#ffecec"><span style="display:inline-block;transform:scaleX(.83)">SELL</span></div>
<div class="abs" style="left:174px;top:52px;width:52px;text-align:center;font-size:12.5px;line-height:14px;color:#ffecec"><span style="display:inline-block;transform:scaleX(.9)">BUY</span></div>
<!-- spinner -->
<div class="abs" style="left:61px;top:47px;width:109px;height:20px;background:#fff;border:1px solid #a4aaba;box-sizing:content-box"></div>
<div class="abs" style="left:62px;top:48px;width:20px;height:20px;background:linear-gradient(#f0f0f0,#e2e2e2 45%,#d6d6d6 50%,#cecece);border-right:1px solid #a4aaba;box-shadow:inset 0 0 0 1px #f2f2f2"></div>
<div class="abs" style="left:150px;top:48px;width:20px;height:20px;background:linear-gradient(#f0f0f0,#e2e2e2 45%,#d6d6d6 50%,#cecece);border-left:1px solid #a4aaba;box-shadow:inset 0 0 0 1px #f2f2f2"></div>
<div class="abs" style="left:68.6px;top:56px;width:0;height:0;border-left:3px solid transparent;border-right:3px solid transparent;border-top:3.4px solid #4e66cc"></div>
<div class="abs" style="left:157.5px;top:55.6px;width:0;height:0;border-left:3px solid transparent;border-right:3px solid transparent;border-bottom:3.4px solid #4e66cc"></div>
<div class="abs" style="left:100px;top:51px;width:47px;text-align:right;font-size:12px;line-height:14px;color:#000">1.00</div>
<!-- prices -->
<div class="abs" style="left:27px;top:90.6px;font-size:12px;font-weight:bold;line-height:14px;color:#fff">0.69</div>
<div class="abs" style="left:55px;top:71.4px;font-size:32.5px;line-height:38px;color:#fff;letter-spacing:-1.3px;-webkit-text-stroke:0.7px #c81818">31</div>
<div class="abs" style="left:94.5px;top:76px;font-size:12px;font-weight:bold;line-height:12px;color:#fff">3</div>
<div class="abs" style="left:137px;top:90.6px;font-size:12px;font-weight:bold;line-height:14px;color:#fff">0.69</div>
<div class="abs" style="left:165.5px;top:71.4px;font-size:32.5px;line-height:38px;color:#fff;letter-spacing:-1.6px;-webkit-text-stroke:0.7px #c81818">33</div>
<div class="abs" style="left:205px;top:76px;font-size:12px;font-weight:bold;line-height:12px;color:#fff">2</div>
<!-- bottom tabs -->
<div class="abs" style="left:0;top:827px;width:1458px;height:19px;background:#f0f0f0"></div>
<div class="abs" style="left:0;top:827px;width:1px;height:18px;background:#696969"></div>
<div class="abs" style="left:113px;top:826px;width:108px;height:19px;background:#fff;border:1px solid #000;border-top:none;box-sizing:border-box"></div>
<div class="tab" style="left:16px">EURUSD-,Daily</div>
<div class="tab" style="left:123.5px;color:#000;transform:scale(1.03,1.1)">AUDUSD-,Daily</div>
<div class="tab" style="left:233px">USDCHF-,Daily</div>
<div class="tab" style="left:340px">USDCAD-,Daily</div>
<div class="tab" style="left:449px">USDCNH-,Daily</div>
<div class="tab" style="left:560px">EURCHF-,Weekly</div>
<div class="sep" style="left:329px"></div><div class="sep" style="left:437px"></div><div class="sep" style="left:549px"></div><div class="sep" style="left:669px"></div>
<div class="abs" style="left:1435px;top:832px;width:0;height:0;border-top:3px solid transparent;border-bottom:3px solid transparent;border-right:3.5px solid #a0a0a0"></div>
<div class="abs" style="left:1454px;top:832px;width:0;height:0;border-top:3px solid transparent;border-bottom:3px solid transparent;border-left:3.5px solid #a0a0a0"></div>
</body></html>
